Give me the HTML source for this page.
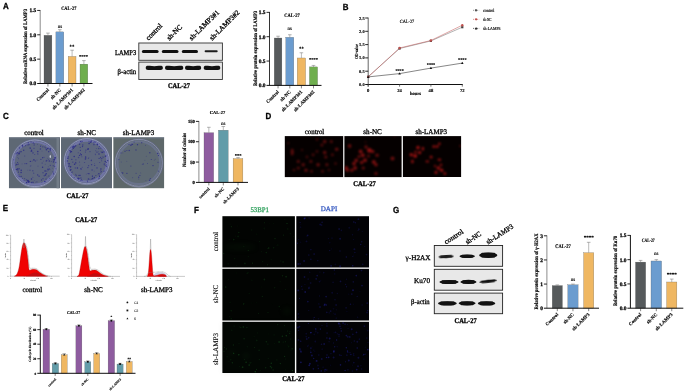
<!DOCTYPE html>
<html><head><meta charset="utf-8"><style>
html,body{margin:0;padding:0;background:#fff;width:685px;height:391px;overflow:hidden}
svg{display:block}
</style></head><body>
<svg width="685" height="391" viewBox="0 0 685 391" text-rendering="geometricPrecision">
<defs>
<filter id="gb" color-interpolation-filters="sRGB" x="0" y="0" width="100%" height="100%"><feGaussianBlur stdDeviation="0.3"/></filter>
<filter id="bl" color-interpolation-filters="sRGB" x="-20%" y="-100%" width="140%" height="300%"><feGaussianBlur stdDeviation="0.65"/></filter>
<filter id="bl2" color-interpolation-filters="sRGB" x="-5%" y="-5%" width="110%" height="110%"><feGaussianBlur stdDeviation="0.6"/></filter>
<filter id="bl3" color-interpolation-filters="sRGB" x="-5%" y="-5%" width="110%" height="110%"><feGaussianBlur stdDeviation="0.4"/></filter>
<filter id="bl5" color-interpolation-filters="sRGB" x="-20%" y="-50%" width="140%" height="200%"><feGaussianBlur stdDeviation="2.5"/></filter>
<filter id="bl4" color-interpolation-filters="sRGB" x="-5%" y="-5%" width="110%" height="110%"><feGaussianBlur stdDeviation="1.0"/></filter>
</defs>
<rect width="685" height="391" fill="#fff"/>
<g filter="url(#gb)">
<text transform="translate(2.9 9.149999999999999) scale(0.9 1)" x="0" y="0" font-family="'Liberation Sans', sans-serif" font-size="8.9" font-weight="bold" fill="#000" stroke="#000" stroke-width="0.3">A</text>
<rect x="44.0" y="35.287" width="7.9" height="48.213" fill="#585b5d" stroke="#555" stroke-width="0.25"/>
<line x1="47.95" y1="33.0955" x2="47.95" y2="35.287" stroke="#777" stroke-width="0.5"/>
<line x1="46.150000000000006" y1="33.0955" x2="49.75" y2="33.0955" stroke="#777" stroke-width="0.55"/>
<line x1="47.95" y1="83.5" x2="47.95" y2="86.5" stroke="#444" stroke-width="0.65"/>
<rect x="55.9" y="31.877999999999993" width="7.9" height="51.62200000000001" fill="#6b9ccf" stroke="#555" stroke-width="0.25"/>
<line x1="59.85" y1="29.686499999999995" x2="59.85" y2="31.877999999999993" stroke="#777" stroke-width="0.5"/>
<line x1="58.050000000000004" y1="29.686499999999995" x2="61.65" y2="29.686499999999995" stroke="#777" stroke-width="0.55"/>
<line x1="59.85" y1="83.5" x2="59.85" y2="86.5" stroke="#444" stroke-width="0.65"/>
<rect x="68.2" y="56.422799999999995" width="7.8" height="27.077200000000005" fill="#efb762" stroke="#555" stroke-width="0.25"/>
<line x1="72.10000000000001" y1="50.18919999999999" x2="72.10000000000001" y2="56.422799999999995" stroke="#777" stroke-width="0.5"/>
<line x1="70.30000000000001" y1="50.18919999999999" x2="73.9" y2="50.18919999999999" stroke="#777" stroke-width="0.55"/>
<line x1="72.10000000000001" y1="83.5" x2="72.10000000000001" y2="86.5" stroke="#444" stroke-width="0.65"/>
<rect x="80.0" y="64.1174" width="7.8" height="19.382599999999996" fill="#6fae4e" stroke="#555" stroke-width="0.25"/>
<line x1="83.9" y1="60.611000000000004" x2="83.9" y2="64.1174" stroke="#777" stroke-width="0.5"/>
<line x1="82.10000000000001" y1="60.611000000000004" x2="85.7" y2="60.611000000000004" stroke="#777" stroke-width="0.55"/>
<line x1="83.9" y1="83.5" x2="83.9" y2="86.5" stroke="#444" stroke-width="0.65"/>
<line x1="40.2" y1="10.049999999999988" x2="40.2" y2="83.5" stroke="#8c8c8c" stroke-width="1.0"/>
<line x1="37.2" y1="83.5" x2="92.5" y2="83.5" stroke="#111" stroke-width="1.0"/>
<text x="36.2" y="85.444" font-family="'Liberation Serif', serif" font-size="5.4" font-weight="bold" text-anchor="end" fill="#000" stroke="#000" stroke-width="0.27">0.0</text>
<line x1="37.2" y1="59.15" x2="40.2" y2="59.15" stroke="#111" stroke-width="0.9"/>
<text x="36.2" y="61.094" font-family="'Liberation Serif', serif" font-size="5.4" font-weight="bold" text-anchor="end" fill="#000" stroke="#000" stroke-width="0.27">0.5</text>
<line x1="37.2" y1="34.8" x2="40.2" y2="34.8" stroke="#111" stroke-width="0.9"/>
<text x="36.2" y="36.744" font-family="'Liberation Serif', serif" font-size="5.4" font-weight="bold" text-anchor="end" fill="#000" stroke="#000" stroke-width="0.27">1.0</text>
<line x1="37.2" y1="10.449999999999989" x2="40.2" y2="10.449999999999989" stroke="#111" stroke-width="0.9"/>
<text x="36.2" y="12.393999999999988" font-family="'Liberation Serif', serif" font-size="5.4" font-weight="bold" text-anchor="end" fill="#000" stroke="#000" stroke-width="0.27">1.5</text>
<text x="26.6" y="46.5" font-family="'Liberation Serif', serif" font-size="5.3" font-weight="bold" text-anchor="middle" fill="#000" stroke="#000" stroke-width="0.159" transform="rotate(-90 26.6 46.5)" textLength="75" lengthAdjust="spacingAndGlyphs">Relative mRNA expression of LAMP3</text>
<text x="68.8" y="10.3" font-family="'Liberation Serif', serif" font-size="5.2" font-weight="bold" text-anchor="middle" fill="#000" stroke="#000" stroke-width="0.156" textLength="15.2" lengthAdjust="spacingAndGlyphs">CAL-27</text>
<text x="60.0" y="27.6" font-family="'Liberation Serif', serif" font-size="5.0" font-weight="normal" text-anchor="middle" fill="#000" stroke="#000" stroke-width="0.15">ns</text>
<text x="72.0" y="48.4" font-family="'Liberation Serif', serif" font-size="4.8" font-weight="bold" text-anchor="middle" fill="#000" stroke="#000" stroke-width="0.144">**</text>
<text x="83.5" y="58.1" font-family="'Liberation Serif', serif" font-size="4.6" font-weight="bold" text-anchor="middle" fill="#000" stroke="#000" stroke-width="0.138">****</text>
<text x="49.4" y="90.3" font-family="'Liberation Serif', serif" font-size="4.8" font-weight="bold" text-anchor="end" fill="#000" stroke="#000" stroke-width="0.144" transform="rotate(-45 49.4 90.3)">Control</text>
<text x="61.4" y="90.3" font-family="'Liberation Serif', serif" font-size="4.8" font-weight="bold" text-anchor="end" fill="#000" stroke="#000" stroke-width="0.144" transform="rotate(-45 61.4 90.3)">sh-NC</text>
<text x="73.39999999999999" y="90.3" font-family="'Liberation Serif', serif" font-size="4.8" font-weight="bold" text-anchor="end" fill="#000" stroke="#000" stroke-width="0.144" transform="rotate(-45 73.39999999999999 90.3)">sh-LAMP3#1</text>
<text x="85.2" y="90.3" font-family="'Liberation Serif', serif" font-size="4.8" font-weight="bold" text-anchor="end" fill="#000" stroke="#000" stroke-width="0.144" transform="rotate(-45 85.2 90.3)">sh-LAMP3#2</text>
<rect x="138.8" y="43.0" width="83.6" height="17.3" fill="#e8e8e8" stroke="#333" stroke-width="0.9"/>
<rect x="138.8" y="62.1" width="83.6" height="17.4" fill="#e8e8e8" stroke="#333" stroke-width="0.9"/>
<rect x="141.9" y="50.0" width="16.69999999999999" height="3.0" rx="1.5" ry="1.5" fill="#111" fill-opacity="1.0" filter="url(#bl)" transform="rotate(0 150.25 51.5)"/>
<rect x="161.8" y="50.0" width="16.69999999999999" height="3.0" rx="1.5" ry="1.5" fill="#111" fill-opacity="1.0" filter="url(#bl)" transform="rotate(0 170.15 51.5)"/>
<rect x="181.8" y="50.0" width="16.19999999999999" height="3.0" rx="1.5" ry="1.5" fill="#111" fill-opacity="1.0" filter="url(#bl)" transform="rotate(0 189.9 51.5)"/>
<rect x="204.6" y="50.2" width="13.099999999999994" height="2.0" rx="1.0" ry="1.0" fill="#111" fill-opacity="0.95" filter="url(#bl)" transform="rotate(0 211.14999999999998 51.2)"/>
<path d="M145.7,67.9 C145.7,65.55000000000001 147.7,65.85000000000001 149.7,65.85000000000001 Q154.3,66.75000000000001 158.9,65.85000000000001 C160.9,65.85000000000001 162.9,65.55000000000001 162.9,67.9 C162.9,69.95 160.9,69.95 158.9,69.95 Q154.3,70.22 149.7,69.95 C147.7,69.95 145.7,69.95 145.7,67.9 Z" fill="#111" fill-opacity="1.0" filter="url(#bl)" transform="rotate(0 154.3 67.9)"/>
<path d="M165.0,67.9 C165.0,65.55000000000001 167.0,65.85000000000001 169.0,65.85000000000001 Q174.15,66.75000000000001 179.3,65.85000000000001 C181.3,65.85000000000001 183.3,65.55000000000001 183.3,67.9 C183.3,69.95 181.3,69.95 179.3,69.95 Q174.15,70.22 169.0,69.95 C167.0,69.95 165.0,69.95 165.0,67.9 Z" fill="#111" fill-opacity="1.0" filter="url(#bl)" transform="rotate(0 174.15 67.9)"/>
<path d="M185.0,67.9 C185.0,65.55000000000001 187.0,65.85000000000001 189.0,65.85000000000001 Q193.1,66.75000000000001 197.2,65.85000000000001 C199.2,65.85000000000001 201.2,65.55000000000001 201.2,67.9 C201.2,69.95 199.2,69.95 197.2,69.95 Q193.1,70.22 189.0,69.95 C187.0,69.95 185.0,69.95 185.0,67.9 Z" fill="#111" fill-opacity="1.0" filter="url(#bl)" transform="rotate(0 193.1 67.9)"/>
<path d="M203.7,67.9 C203.7,65.55000000000001 205.7,65.85000000000001 207.7,65.85000000000001 Q212.0,66.75000000000001 216.3,65.85000000000001 C218.3,65.85000000000001 220.3,65.55000000000001 220.3,67.9 C220.3,69.95 218.3,69.95 216.3,69.95 Q212.0,70.22 207.7,69.95 C205.7,69.95 203.7,69.95 203.7,67.9 Z" fill="#111" fill-opacity="1.0" filter="url(#bl)" transform="rotate(0 212.0 67.9)"/>
<text x="136.2" y="54.6" font-family="'Liberation Serif', serif" font-size="7.4" font-weight="normal" text-anchor="end" fill="#000" stroke="#000" stroke-width="0.296" textLength="21.2" lengthAdjust="spacingAndGlyphs">LAMP3</text>
<text x="136.2" y="74.4" font-family="'Liberation Serif', serif" font-size="7.4" font-weight="normal" text-anchor="end" fill="#000" stroke="#000" stroke-width="0.296" textLength="18.6" lengthAdjust="spacingAndGlyphs">β-actin</text>
<text x="179.0" y="88.4" font-family="'Liberation Serif', serif" font-size="7.3" font-weight="bold" text-anchor="middle" fill="#000" stroke="#000" stroke-width="0.292" textLength="22" lengthAdjust="spacingAndGlyphs">CAL-27</text>
<text x="148.4" y="40.8" font-family="'Liberation Serif', serif" font-size="7.2" font-weight="normal" text-anchor="start" fill="#000" stroke="#000" stroke-width="0.288" transform="rotate(-45 148.4 40.8)">control</text>
<text x="169.4" y="40.8" font-family="'Liberation Serif', serif" font-size="7.2" font-weight="normal" text-anchor="start" fill="#000" stroke="#000" stroke-width="0.288" transform="rotate(-45 169.4 40.8)">sh-NC</text>
<text x="191.8" y="40.8" font-family="'Liberation Serif', serif" font-size="7.2" font-weight="normal" text-anchor="start" fill="#000" stroke="#000" stroke-width="0.288" transform="rotate(-45 191.8 40.8)">sh-LAMP3#1</text>
<text x="212.2" y="40.8" font-family="'Liberation Serif', serif" font-size="7.2" font-weight="normal" text-anchor="start" fill="#000" stroke="#000" stroke-width="0.288" transform="rotate(-45 212.2 40.8)">sh-LAMP3#2</text>
<rect x="274.2" y="38.014900000000004" width="7.7" height="47.3851" fill="#565a5c" stroke="#555" stroke-width="0.25"/>
<line x1="278.05" y1="36.213" x2="278.05" y2="38.014900000000004" stroke="#777" stroke-width="0.5"/>
<line x1="276.25" y1="36.213" x2="279.85" y2="36.213" stroke="#777" stroke-width="0.55"/>
<line x1="278.05" y1="85.4" x2="278.05" y2="88.4" stroke="#444" stroke-width="0.65"/>
<rect x="285.8" y="37.284400000000005" width="8.0" height="48.1156" fill="#6b9ccf" stroke="#555" stroke-width="0.25"/>
<line x1="289.8" y1="34.752" x2="289.8" y2="37.284400000000005" stroke="#777" stroke-width="0.5"/>
<line x1="288.0" y1="34.752" x2="291.6" y2="34.752" stroke="#777" stroke-width="0.55"/>
<line x1="289.8" y1="85.4" x2="289.8" y2="88.4" stroke="#444" stroke-width="0.65"/>
<rect x="297.2" y="57.98190000000001" width="8.4" height="27.418099999999995" fill="#efb762" stroke="#555" stroke-width="0.25"/>
<line x1="301.4" y1="52.771" x2="301.4" y2="57.98190000000001" stroke="#777" stroke-width="0.5"/>
<line x1="299.59999999999997" y1="52.771" x2="303.2" y2="52.771" stroke="#777" stroke-width="0.55"/>
<line x1="301.4" y1="85.4" x2="301.4" y2="88.4" stroke="#444" stroke-width="0.65"/>
<rect x="309.4" y="66.894" width="8.2" height="18.506" fill="#6fae4e" stroke="#555" stroke-width="0.25"/>
<line x1="313.5" y1="65.433" x2="313.5" y2="66.894" stroke="#777" stroke-width="0.5"/>
<line x1="311.7" y1="65.433" x2="315.3" y2="65.433" stroke="#777" stroke-width="0.55"/>
<line x1="313.5" y1="85.4" x2="313.5" y2="88.4" stroke="#444" stroke-width="0.65"/>
<line x1="269.5" y1="11.949999999999994" x2="269.5" y2="85.4" stroke="#333" stroke-width="1.0"/>
<line x1="266.5" y1="85.4" x2="321.5" y2="85.4" stroke="#111" stroke-width="1.0"/>
<text x="265.5" y="87.34400000000001" font-family="'Liberation Serif', serif" font-size="5.4" font-weight="bold" text-anchor="end" fill="#000" stroke="#000" stroke-width="0.27">0.0</text>
<line x1="266.5" y1="61.050000000000004" x2="269.5" y2="61.050000000000004" stroke="#111" stroke-width="0.9"/>
<text x="265.5" y="62.99400000000001" font-family="'Liberation Serif', serif" font-size="5.4" font-weight="bold" text-anchor="end" fill="#000" stroke="#000" stroke-width="0.27">0.5</text>
<line x1="266.5" y1="36.7" x2="269.5" y2="36.7" stroke="#111" stroke-width="0.9"/>
<text x="265.5" y="38.644000000000005" font-family="'Liberation Serif', serif" font-size="5.4" font-weight="bold" text-anchor="end" fill="#000" stroke="#000" stroke-width="0.27">1.0</text>
<line x1="266.5" y1="12.349999999999994" x2="269.5" y2="12.349999999999994" stroke="#111" stroke-width="0.9"/>
<text x="265.5" y="14.293999999999993" font-family="'Liberation Serif', serif" font-size="5.4" font-weight="bold" text-anchor="end" fill="#000" stroke="#000" stroke-width="0.27">1.5</text>
<text x="257.4" y="48.5" font-family="'Liberation Serif', serif" font-size="5.3" font-weight="bold" text-anchor="middle" fill="#000" stroke="#000" stroke-width="0.159" transform="rotate(-90 257.4 48.5)" textLength="75" lengthAdjust="spacingAndGlyphs">Relative protein expression of LAMP3</text>
<text x="292.0" y="16.5" font-family="'Liberation Serif', serif" font-size="5.2" font-weight="bold" text-anchor="middle" fill="#000" stroke="#000" stroke-width="0.156" textLength="15.5" lengthAdjust="spacingAndGlyphs">CAL-27</text>
<text x="289.8" y="30.0" font-family="'Liberation Serif', serif" font-size="5.0" font-weight="normal" text-anchor="middle" fill="#000" stroke="#000" stroke-width="0.15">ns</text>
<text x="301.4" y="49.7" font-family="'Liberation Serif', serif" font-size="4.8" font-weight="bold" text-anchor="middle" fill="#000" stroke="#000" stroke-width="0.144">**</text>
<text x="313.5" y="60.6" font-family="'Liberation Serif', serif" font-size="4.6" font-weight="bold" text-anchor="middle" fill="#000" stroke="#000" stroke-width="0.138">****</text>
<text x="279.3" y="92.3" font-family="'Liberation Serif', serif" font-size="4.8" font-weight="bold" text-anchor="end" fill="#000" stroke="#000" stroke-width="0.144" transform="rotate(-45 279.3 92.3)">Control</text>
<text x="291.1" y="92.3" font-family="'Liberation Serif', serif" font-size="4.8" font-weight="bold" text-anchor="end" fill="#000" stroke="#000" stroke-width="0.144" transform="rotate(-45 291.1 92.3)">sh-NC</text>
<text x="302.7" y="92.3" font-family="'Liberation Serif', serif" font-size="4.8" font-weight="bold" text-anchor="end" fill="#000" stroke="#000" stroke-width="0.144" transform="rotate(-45 302.7 92.3)">sh-LAMP3#1</text>
<text x="314.8" y="92.3" font-family="'Liberation Serif', serif" font-size="4.8" font-weight="bold" text-anchor="end" fill="#000" stroke="#000" stroke-width="0.144" transform="rotate(-45 314.8 92.3)">sh-LAMP3#2</text>
<text transform="translate(342.79999999999995 9.649999999999999) scale(0.9 1)" x="0" y="0" font-family="'Liberation Sans', sans-serif" font-size="8.9" font-weight="bold" fill="#000" stroke="#000" stroke-width="0.3">B</text>
<line x1="368.2" y1="17.6" x2="368.2" y2="86.7" stroke="#555" stroke-width="0.9"/>
<line x1="365.2" y1="84.5" x2="462.8" y2="84.5" stroke="#111" stroke-width="1.0"/>
<text x="364.59999999999997" y="86.0" font-family="'Liberation Serif', serif" font-size="4.4" font-weight="bold" text-anchor="end" fill="#000" stroke="#000" stroke-width="0.132">0.0</text>
<line x1="365.2" y1="71.2" x2="368.2" y2="71.2" stroke="#111" stroke-width="0.9"/>
<text x="364.59999999999997" y="72.7" font-family="'Liberation Serif', serif" font-size="4.4" font-weight="bold" text-anchor="end" fill="#000" stroke="#000" stroke-width="0.132">0.5</text>
<line x1="365.2" y1="57.9" x2="368.2" y2="57.9" stroke="#111" stroke-width="0.9"/>
<text x="364.59999999999997" y="59.4" font-family="'Liberation Serif', serif" font-size="4.4" font-weight="bold" text-anchor="end" fill="#000" stroke="#000" stroke-width="0.132">1.0</text>
<line x1="365.2" y1="44.599999999999994" x2="368.2" y2="44.599999999999994" stroke="#111" stroke-width="0.9"/>
<text x="364.59999999999997" y="46.099999999999994" font-family="'Liberation Serif', serif" font-size="4.4" font-weight="bold" text-anchor="end" fill="#000" stroke="#000" stroke-width="0.132">1.5</text>
<line x1="365.2" y1="31.299999999999997" x2="368.2" y2="31.299999999999997" stroke="#111" stroke-width="0.9"/>
<text x="364.59999999999997" y="32.8" font-family="'Liberation Serif', serif" font-size="4.4" font-weight="bold" text-anchor="end" fill="#000" stroke="#000" stroke-width="0.132">2.0</text>
<line x1="365.2" y1="18.0" x2="368.2" y2="18.0" stroke="#111" stroke-width="0.9"/>
<text x="364.59999999999997" y="19.5" font-family="'Liberation Serif', serif" font-size="4.4" font-weight="bold" text-anchor="end" fill="#000" stroke="#000" stroke-width="0.132">2.5</text>
<line x1="368.2" y1="84.5" x2="368.2" y2="86.7" stroke="#555" stroke-width="0.8"/>
<text x="368.2" y="92.2" font-family="'Liberation Serif', serif" font-size="4.6" font-weight="bold" text-anchor="middle" fill="#000" stroke="#000" stroke-width="0.138">0</text>
<line x1="399.6" y1="84.5" x2="399.6" y2="86.7" stroke="#555" stroke-width="0.8"/>
<text x="399.6" y="92.2" font-family="'Liberation Serif', serif" font-size="4.6" font-weight="bold" text-anchor="middle" fill="#000" stroke="#000" stroke-width="0.138">24</text>
<line x1="430.9" y1="84.5" x2="430.9" y2="86.7" stroke="#555" stroke-width="0.8"/>
<text x="430.9" y="92.2" font-family="'Liberation Serif', serif" font-size="4.6" font-weight="bold" text-anchor="middle" fill="#000" stroke="#000" stroke-width="0.138">48</text>
<line x1="462.3" y1="84.5" x2="462.3" y2="86.7" stroke="#555" stroke-width="0.8"/>
<text x="462.3" y="92.2" font-family="'Liberation Serif', serif" font-size="4.6" font-weight="bold" text-anchor="middle" fill="#000" stroke="#000" stroke-width="0.138">72</text>
<text x="415.5" y="95.0" font-family="'Liberation Serif', serif" font-size="4.6" font-weight="bold" text-anchor="middle" fill="#000" stroke="#000" stroke-width="0.138">hours</text>
<text x="358.4" y="51.5" font-family="'Liberation Serif', serif" font-size="4.6" font-weight="bold" text-anchor="middle" fill="#000" stroke="#000" stroke-width="0.138" transform="rotate(-90 358.4 51.5)" textLength="15" lengthAdjust="spacingAndGlyphs">OD value</text>
<text x="407.0" y="22.8" font-family="'Liberation Serif', serif" font-size="4.8" font-weight="normal" text-anchor="middle" fill="#000" stroke="#000" stroke-width="0.144" textLength="14.5" lengthAdjust="spacingAndGlyphs">CAL-27</text>
<polyline points="368.2,76.7 399.6,48.5 430.9,40.9 462.3,27.2" fill="none" stroke="#555" stroke-width="0.45"/>
<polyline points="368.2,76.9 399.6,48.0 430.9,40.5 462.3,25.2" fill="none" stroke="#c05050" stroke-width="0.5"/>
<polyline points="368.2,76.9 399.6,73.6 430.9,68.1 462.3,63.1" fill="none" stroke="#222" stroke-width="0.55"/>
<rect x="367.09999999999997" y="75.60000000000001" width="2.2" height="2.2" fill="#444"/>
<rect x="398.5" y="47.4" width="2.2" height="2.2" fill="#444"/>
<rect x="429.79999999999995" y="39.8" width="2.2" height="2.2" fill="#444"/>
<rect x="461.2" y="26.099999999999998" width="2.2" height="2.2" fill="#444"/>
<circle cx="368.2" cy="76.9" r="1.2" fill="#c0504d"/>
<circle cx="399.6" cy="48.0" r="1.2" fill="#c0504d"/>
<circle cx="430.9" cy="40.5" r="1.2" fill="#c0504d"/>
<circle cx="462.3" cy="25.2" r="1.2" fill="#c0504d"/>
<polygon points="366.9,77.9 369.5,77.9 368.2,75.60000000000001" fill="#111"/>
<polygon points="398.3,74.6 400.90000000000003,74.6 399.6,72.3" fill="#111"/>
<polygon points="429.59999999999997,69.1 432.2,69.1 430.9,66.8" fill="#111"/>
<polygon points="461.0,64.1 463.6,64.1 462.3,61.800000000000004" fill="#111"/>
<text x="399.6" y="71.6" font-family="'Liberation Serif', serif" font-size="4.2" font-weight="bold" text-anchor="middle" fill="#000" stroke="#000" stroke-width="0.126">****</text>
<text x="431.0" y="66.4" font-family="'Liberation Serif', serif" font-size="4.2" font-weight="bold" text-anchor="middle" fill="#000" stroke="#000" stroke-width="0.126">****</text>
<text x="462.3" y="61.2" font-family="'Liberation Serif', serif" font-size="4.2" font-weight="bold" text-anchor="middle" fill="#000" stroke="#000" stroke-width="0.126">****</text>
<line x1="473.0" y1="10.3" x2="479.2" y2="10.3" stroke="#555" stroke-width="0.6" stroke-dasharray="1.2,0.8"/>
<rect x="475.0" y="9.3" width="2" height="2" fill="#555"/>
<text x="483.0" y="11.8" font-family="'Liberation Serif', serif" font-size="4.6" font-weight="normal" text-anchor="start" fill="#000" stroke="#000" stroke-width="0.138" textLength="11.5" lengthAdjust="spacingAndGlyphs">control</text>
<line x1="473.0" y1="19.35" x2="479.2" y2="19.35" stroke="#c0504d" stroke-width="0.6" stroke-dasharray="1.2,0.8"/>
<circle cx="476.1" cy="19.35" r="1.1" fill="#c0504d"/>
<text x="483.0" y="20.85" font-family="'Liberation Serif', serif" font-size="4.6" font-weight="normal" text-anchor="start" fill="#000" stroke="#000" stroke-width="0.138" textLength="8.5" lengthAdjust="spacingAndGlyphs">sh-NC</text>
<line x1="473.0" y1="28.400000000000002" x2="479.2" y2="28.400000000000002" stroke="#111" stroke-width="0.6" stroke-dasharray="1.2,0.8"/>
<polygon points="474.8,29.400000000000002 477.4,29.400000000000002 476.1,27.1" fill="#111"/>
<text x="483.0" y="29.900000000000002" font-family="'Liberation Serif', serif" font-size="4.6" font-weight="normal" text-anchor="start" fill="#000" stroke="#000" stroke-width="0.138" textLength="17.5" lengthAdjust="spacingAndGlyphs">sh-LAMP3</text>
<text transform="translate(3.0 119.35) scale(0.9 1)" x="0" y="0" font-family="'Liberation Sans', sans-serif" font-size="8.9" font-weight="bold" fill="#000" stroke="#000" stroke-width="0.3">C</text>
<clipPath id="pc1"><rect x="8.8" y="137.2" width="51.2" height="51.2"/></clipPath>
<g clip-path="url(#pc1)">
<rect x="8.8" y="137.2" width="51.2" height="51.2" fill="#5e6874"/>
<rect x="8.8" y="137.2" width="51.2" height="1.2" fill="#6c7684"/>
<circle cx="34.9" cy="163.3" r="24.3" fill="#646b86"/>
<circle cx="34.9" cy="163.3" r="23.3" fill="#5e677e" stroke="#949ac0" stroke-width="0.9"/>
<circle cx="34.9" cy="163.3" r="21.3" fill="none" stroke="#7478ae" stroke-width="2.2" opacity="0.8"/>
<path d="M16.259999999999998,177.746 A22.5,22.5 0 0 0 53.54,177.746" fill="none" stroke="#9a9eba" stroke-width="0.8" opacity="0.6"/>
<g filter="url(#bl3)"><circle cx="47.0" cy="176.9" r="0.46" fill="#2a2a84" opacity="0.72"/><circle cx="17.3" cy="169.1" r="0.39" fill="#2a2a84" opacity="0.51"/><circle cx="45.6" cy="145.4" r="0.35" fill="#2a2a84" opacity="0.70"/><circle cx="31.1" cy="142.1" r="0.76" fill="#2a2a84" opacity="0.51"/><circle cx="54.8" cy="166.5" r="0.52" fill="#2a2a84" opacity="0.60"/><circle cx="18.4" cy="172.1" r="0.55" fill="#2a2a84" opacity="0.72"/><circle cx="36.9" cy="181.9" r="0.56" fill="#2a2a84" opacity="0.63"/><circle cx="50.3" cy="165.4" r="0.64" fill="#2a2a84" opacity="0.58"/><circle cx="42.1" cy="163.0" r="0.50" fill="#2a2a84" opacity="0.82"/><circle cx="31.6" cy="150.2" r="0.72" fill="#2a2a84" opacity="0.80"/><circle cx="28.5" cy="181.8" r="0.73" fill="#2a2a84" opacity="0.73"/><circle cx="18.9" cy="153.3" r="0.71" fill="#2a2a84" opacity="0.69"/><circle cx="43.0" cy="178.7" r="0.65" fill="#2a2a84" opacity="0.67"/><circle cx="17.9" cy="170.2" r="0.58" fill="#2a2a84" opacity="0.68"/><circle cx="16.9" cy="164.5" r="0.67" fill="#2a2a84" opacity="0.94"/><circle cx="19.4" cy="153.1" r="0.58" fill="#2a2a84" opacity="0.94"/><circle cx="37.4" cy="144.2" r="0.45" fill="#2a2a84" opacity="0.73"/><circle cx="48.4" cy="159.2" r="0.47" fill="#2a2a84" opacity="0.75"/><circle cx="55.1" cy="157.7" r="0.72" fill="#2a2a84" opacity="0.90"/><circle cx="34.0" cy="148.3" r="0.60" fill="#2a2a84" opacity="0.69"/><circle cx="49.6" cy="168.7" r="0.44" fill="#2a2a84" opacity="0.73"/><circle cx="15.8" cy="165.1" r="0.59" fill="#2a2a84" opacity="0.78"/><circle cx="32.3" cy="161.0" r="0.45" fill="#2a2a84" opacity="0.58"/><circle cx="18.9" cy="153.9" r="0.71" fill="#2a2a84" opacity="0.87"/><circle cx="34.3" cy="180.4" r="0.39" fill="#2a2a84" opacity="0.51"/><circle cx="45.2" cy="164.2" r="0.40" fill="#2a2a84" opacity="0.78"/><circle cx="24.6" cy="178.6" r="0.59" fill="#2a2a84" opacity="0.58"/><circle cx="32.9" cy="177.2" r="0.49" fill="#2a2a84" opacity="0.71"/><circle cx="54.2" cy="166.2" r="0.43" fill="#2a2a84" opacity="0.55"/><circle cx="42.6" cy="157.7" r="0.62" fill="#2a2a84" opacity="0.87"/><circle cx="53.2" cy="165.7" r="0.67" fill="#2a2a84" opacity="0.57"/><circle cx="30.6" cy="148.6" r="0.45" fill="#2a2a84" opacity="0.94"/><circle cx="37.8" cy="153.9" r="0.64" fill="#2a2a84" opacity="0.68"/><circle cx="16.8" cy="154.0" r="0.38" fill="#2a2a84" opacity="0.63"/><circle cx="46.2" cy="161.0" r="0.74" fill="#2a2a84" opacity="0.64"/><circle cx="47.4" cy="158.3" r="0.46" fill="#2a2a84" opacity="0.50"/><circle cx="50.2" cy="148.7" r="0.78" fill="#2a2a84" opacity="0.76"/><circle cx="44.6" cy="181.4" r="0.67" fill="#2a2a84" opacity="0.73"/><circle cx="21.4" cy="176.3" r="0.65" fill="#2a2a84" opacity="0.69"/><circle cx="41.9" cy="182.5" r="0.48" fill="#2a2a84" opacity="0.72"/><circle cx="25.9" cy="180.9" r="0.36" fill="#2a2a84" opacity="0.59"/><circle cx="26.3" cy="179.5" r="0.50" fill="#2a2a84" opacity="0.60"/><circle cx="25.7" cy="145.4" r="0.50" fill="#2a2a84" opacity="0.90"/><circle cx="27.0" cy="144.2" r="0.46" fill="#2a2a84" opacity="0.83"/><circle cx="53.4" cy="174.2" r="0.45" fill="#2a2a84" opacity="0.84"/><circle cx="24.7" cy="155.9" r="0.50" fill="#2a2a84" opacity="0.63"/><circle cx="48.6" cy="148.3" r="0.75" fill="#2a2a84" opacity="0.56"/><circle cx="17.8" cy="157.6" r="0.38" fill="#2a2a84" opacity="0.89"/><circle cx="37.8" cy="151.5" r="0.63" fill="#2a2a84" opacity="0.85"/><circle cx="27.8" cy="170.1" r="0.39" fill="#2a2a84" opacity="0.62"/><circle cx="50.4" cy="150.6" r="0.56" fill="#2a2a84" opacity="0.62"/><circle cx="35.4" cy="161.0" r="0.65" fill="#2a2a84" opacity="0.54"/><circle cx="38.0" cy="166.1" r="0.46" fill="#2a2a84" opacity="0.94"/><circle cx="18.6" cy="172.1" r="0.46" fill="#2a2a84" opacity="0.83"/><circle cx="45.1" cy="171.0" r="0.79" fill="#2a2a84" opacity="0.91"/><circle cx="29.5" cy="182.3" r="0.40" fill="#2a2a84" opacity="0.79"/><circle cx="56.0" cy="168.7" r="0.48" fill="#2a2a84" opacity="0.77"/><circle cx="17.7" cy="168.9" r="0.76" fill="#2a2a84" opacity="0.94"/><circle cx="53.3" cy="159.8" r="0.63" fill="#2a2a84" opacity="0.94"/><circle cx="18.6" cy="158.8" r="0.47" fill="#2a2a84" opacity="0.74"/><circle cx="28.5" cy="180.3" r="0.48" fill="#2a2a84" opacity="0.94"/><circle cx="19.1" cy="168.7" r="0.77" fill="#2a2a84" opacity="0.68"/><circle cx="28.2" cy="181.2" r="0.73" fill="#2a2a84" opacity="0.90"/><circle cx="28.4" cy="182.2" r="0.61" fill="#2a2a84" opacity="0.77"/><circle cx="35.5" cy="182.1" r="0.38" fill="#2a2a84" opacity="0.75"/><circle cx="53.3" cy="172.1" r="0.48" fill="#2a2a84" opacity="0.86"/><circle cx="26.7" cy="163.6" r="0.58" fill="#2a2a84" opacity="0.86"/><circle cx="42.6" cy="167.3" r="0.70" fill="#2a2a84" opacity="0.94"/><circle cx="42.9" cy="146.8" r="0.58" fill="#2a2a84" opacity="0.91"/><circle cx="32.8" cy="170.8" r="0.76" fill="#2a2a84" opacity="0.51"/><circle cx="27.4" cy="180.4" r="0.76" fill="#2a2a84" opacity="0.88"/><circle cx="34.7" cy="154.5" r="0.54" fill="#2a2a84" opacity="0.57"/><circle cx="32.6" cy="153.1" r="0.38" fill="#2a2a84" opacity="0.93"/><circle cx="40.4" cy="149.0" r="0.73" fill="#2a2a84" opacity="0.70"/><circle cx="19.9" cy="174.8" r="0.36" fill="#2a2a84" opacity="0.79"/><circle cx="30.4" cy="165.9" r="0.51" fill="#2a2a84" opacity="0.56"/><circle cx="49.8" cy="178.3" r="0.53" fill="#2a2a84" opacity="0.68"/><circle cx="21.3" cy="151.7" r="0.59" fill="#2a2a84" opacity="0.73"/><circle cx="22.7" cy="146.7" r="0.68" fill="#2a2a84" opacity="0.61"/><circle cx="25.0" cy="163.6" r="0.54" fill="#2a2a84" opacity="0.75"/><circle cx="44.0" cy="157.3" r="0.64" fill="#2a2a84" opacity="0.52"/><circle cx="52.4" cy="171.8" r="0.42" fill="#2a2a84" opacity="0.84"/><circle cx="50.2" cy="149.5" r="0.73" fill="#2a2a84" opacity="0.67"/><circle cx="30.1" cy="148.0" r="0.74" fill="#2a2a84" opacity="0.90"/><circle cx="43.4" cy="161.1" r="0.46" fill="#2a2a84" opacity="0.60"/><circle cx="30.6" cy="161.3" r="0.66" fill="#2a2a84" opacity="0.82"/><circle cx="30.0" cy="170.2" r="0.68" fill="#2a2a84" opacity="0.52"/><circle cx="51.3" cy="161.4" r="0.47" fill="#2a2a84" opacity="0.91"/><circle cx="55.1" cy="158.0" r="0.73" fill="#2a2a84" opacity="0.80"/><circle cx="28.3" cy="142.8" r="0.79" fill="#2a2a84" opacity="0.67"/><circle cx="40.9" cy="145.8" r="0.50" fill="#2a2a84" opacity="0.56"/><circle cx="40.9" cy="159.4" r="0.62" fill="#2a2a84" opacity="0.68"/><circle cx="48.8" cy="176.0" r="0.69" fill="#2a2a84" opacity="0.50"/><circle cx="41.5" cy="180.0" r="0.63" fill="#2a2a84" opacity="0.77"/><circle cx="44.6" cy="147.0" r="0.59" fill="#2a2a84" opacity="0.62"/><circle cx="17.3" cy="152.8" r="0.71" fill="#2a2a84" opacity="0.86"/><circle cx="49.3" cy="160.9" r="0.74" fill="#2a2a84" opacity="0.85"/><circle cx="17.7" cy="155.2" r="0.40" fill="#2a2a84" opacity="0.86"/><circle cx="46.2" cy="173.7" r="0.78" fill="#2a2a84" opacity="0.84"/><circle cx="54.5" cy="160.0" r="0.61" fill="#2a2a84" opacity="0.64"/><circle cx="15.0" cy="162.9" r="0.35" fill="#2a2a84" opacity="0.70"/><circle cx="16.4" cy="169.4" r="0.70" fill="#2a2a84" opacity="0.81"/><circle cx="22.1" cy="163.9" r="0.44" fill="#2a2a84" opacity="0.50"/><circle cx="31.5" cy="182.5" r="0.72" fill="#2a2a84" opacity="0.73"/><circle cx="53.8" cy="161.8" r="0.53" fill="#2a2a84" opacity="0.84"/><circle cx="53.4" cy="161.9" r="0.63" fill="#2a2a84" opacity="0.74"/><circle cx="22.6" cy="178.3" r="0.54" fill="#2a2a84" opacity="0.68"/><circle cx="46.4" cy="149.7" r="0.75" fill="#2a2a84" opacity="0.84"/><circle cx="18.3" cy="164.1" r="0.64" fill="#2a2a84" opacity="0.78"/><circle cx="21.1" cy="172.4" r="0.77" fill="#2a2a84" opacity="0.85"/><circle cx="45.6" cy="147.9" r="0.62" fill="#2a2a84" opacity="0.66"/><circle cx="33.1" cy="182.7" r="0.59" fill="#2a2a84" opacity="0.57"/><circle cx="42.0" cy="151.0" r="0.37" fill="#2a2a84" opacity="0.73"/><circle cx="34.3" cy="144.0" r="0.65" fill="#2a2a84" opacity="0.51"/><circle cx="17.6" cy="162.5" r="0.53" fill="#2a2a84" opacity="0.81"/><circle cx="20.1" cy="151.8" r="0.75" fill="#2a2a84" opacity="0.62"/><circle cx="48.3" cy="170.1" r="0.52" fill="#2a2a84" opacity="0.73"/><circle cx="33.2" cy="142.9" r="0.67" fill="#2a2a84" opacity="0.87"/><circle cx="33.7" cy="173.2" r="0.60" fill="#2a2a84" opacity="0.58"/><circle cx="37.9" cy="151.7" r="0.45" fill="#2a2a84" opacity="0.93"/><circle cx="33.9" cy="159.8" r="0.75" fill="#2a2a84" opacity="0.78"/><circle cx="26.4" cy="182.4" r="0.70" fill="#2a2a84" opacity="0.59"/><circle cx="19.6" cy="147.9" r="0.55" fill="#2a2a84" opacity="0.91"/><circle cx="33.4" cy="152.8" r="0.59" fill="#2a2a84" opacity="0.56"/><circle cx="43.0" cy="172.8" r="0.69" fill="#2a2a84" opacity="0.61"/><circle cx="32.6" cy="152.0" r="0.40" fill="#2a2a84" opacity="0.68"/><circle cx="16.3" cy="164.2" r="0.37" fill="#2a2a84" opacity="0.77"/><circle cx="48.7" cy="151.7" r="0.67" fill="#2a2a84" opacity="0.87"/><circle cx="46.8" cy="160.6" r="0.73" fill="#2a2a84" opacity="0.55"/><circle cx="28.0" cy="145.1" r="0.57" fill="#2a2a84" opacity="0.67"/><circle cx="45.2" cy="181.7" r="0.56" fill="#2a2a84" opacity="0.76"/><circle cx="37.7" cy="174.9" r="0.62" fill="#2a2a84" opacity="0.91"/><circle cx="55.9" cy="162.6" r="0.74" fill="#2a2a84" opacity="0.64"/><circle cx="20.1" cy="176.7" r="0.53" fill="#2a2a84" opacity="0.90"/><circle cx="36.1" cy="141.9" r="0.36" fill="#2a2a84" opacity="0.57"/><circle cx="25.0" cy="146.6" r="0.41" fill="#2a2a84" opacity="0.71"/><circle cx="37.0" cy="160.0" r="0.38" fill="#2a2a84" opacity="0.88"/><circle cx="52.6" cy="168.2" r="0.39" fill="#2a2a84" opacity="0.51"/><circle cx="23.7" cy="150.2" r="0.73" fill="#2a2a84" opacity="0.80"/><circle cx="19.1" cy="176.4" r="0.64" fill="#2a2a84" opacity="0.61"/><circle cx="49.8" cy="169.2" r="0.51" fill="#2a2a84" opacity="0.77"/><circle cx="30.1" cy="161.4" r="0.51" fill="#2a2a84" opacity="0.69"/><circle cx="39.1" cy="176.2" r="0.65" fill="#2a2a84" opacity="0.82"/><circle cx="34.1" cy="145.3" r="0.46" fill="#2a2a84" opacity="0.94"/><circle cx="46.1" cy="178.9" r="0.73" fill="#2a2a84" opacity="0.52"/><circle cx="46.9" cy="171.0" r="0.52" fill="#2a2a84" opacity="0.94"/><circle cx="48.3" cy="166.8" r="0.41" fill="#2a2a84" opacity="0.68"/><circle cx="34.0" cy="160.2" r="0.59" fill="#2a2a84" opacity="0.54"/><circle cx="40.5" cy="146.2" r="0.52" fill="#2a2a84" opacity="0.83"/><circle cx="26.8" cy="182.7" r="0.71" fill="#2a2a84" opacity="0.89"/><circle cx="28.7" cy="181.1" r="0.60" fill="#2a2a84" opacity="0.65"/><circle cx="24.1" cy="180.6" r="0.61" fill="#2a2a84" opacity="0.55"/><circle cx="22.4" cy="145.5" r="0.67" fill="#2a2a84" opacity="0.88"/><circle cx="29.0" cy="144.5" r="0.72" fill="#2a2a84" opacity="0.63"/><circle cx="45.9" cy="179.9" r="0.39" fill="#2a2a84" opacity="0.66"/><circle cx="16.1" cy="153.7" r="0.64" fill="#2a2a84" opacity="0.64"/><circle cx="29.2" cy="181.6" r="0.69" fill="#2a2a84" opacity="0.73"/><circle cx="13.7" cy="159.8" r="0.50" fill="#2a2a84" opacity="0.65"/><circle cx="48.0" cy="169.3" r="0.76" fill="#2a2a84" opacity="0.92"/><circle cx="54.5" cy="159.5" r="0.77" fill="#2a2a84" opacity="0.86"/><circle cx="45.4" cy="175.1" r="0.80" fill="#2a2a84" opacity="0.85"/><circle cx="31.3" cy="151.3" r="0.77" fill="#2a2a84" opacity="0.79"/><circle cx="18.1" cy="175.1" r="0.59" fill="#2a2a84" opacity="0.58"/><circle cx="44.2" cy="175.8" r="0.76" fill="#2a2a84" opacity="0.58"/><circle cx="31.0" cy="165.8" r="0.39" fill="#2a2a84" opacity="0.75"/><circle cx="33.0" cy="182.1" r="0.63" fill="#2a2a84" opacity="0.74"/><circle cx="53.6" cy="173.3" r="0.64" fill="#2a2a84" opacity="0.58"/><circle cx="47.4" cy="148.6" r="0.73" fill="#2a2a84" opacity="0.82"/><circle cx="31.5" cy="179.0" r="0.74" fill="#2a2a84" opacity="0.90"/><circle cx="21.2" cy="170.2" r="0.78" fill="#2a2a84" opacity="0.86"/></g>
</g>
<ellipse cx="50.3" cy="156.5" rx="0.7" ry="1.6" fill="#e8eaf0" opacity="0.8"/>
<rect x="56.5" y="137.2" width="2.6" height="51.2" fill="#7a8490" opacity="0.7"/>
<clipPath id="pc2"><rect x="61.0" y="137.2" width="51.0" height="51.2"/></clipPath>
<g clip-path="url(#pc2)">
<rect x="61.0" y="137.2" width="51.0" height="51.2" fill="#5e6874"/>
<rect x="61.0" y="137.2" width="51.0" height="1.2" fill="#6c7684"/>
<circle cx="86.9" cy="161.2" r="23.5" fill="#646b86"/>
<circle cx="86.9" cy="161.2" r="22.5" fill="#5e677e" stroke="#949ac0" stroke-width="0.9"/>
<circle cx="86.9" cy="161.2" r="20.5" fill="none" stroke="#7478ae" stroke-width="2.2" opacity="0.8"/>
<path d="M68.9,175.14999999999998 A21.7,21.7 0 0 0 104.9,175.14999999999998" fill="none" stroke="#9a9eba" stroke-width="0.8" opacity="0.6"/>
<g filter="url(#bl3)"><circle cx="91.5" cy="159.9" r="0.39" fill="#2a2a84" opacity="0.88"/><circle cx="85.9" cy="150.1" r="0.62" fill="#2a2a84" opacity="0.77"/><circle cx="70.5" cy="152.0" r="0.53" fill="#2a2a84" opacity="0.83"/><circle cx="101.6" cy="160.7" r="0.55" fill="#2a2a84" opacity="0.62"/><circle cx="105.4" cy="165.4" r="0.49" fill="#2a2a84" opacity="0.67"/><circle cx="98.5" cy="151.8" r="0.46" fill="#2a2a84" opacity="0.51"/><circle cx="78.2" cy="178.3" r="0.80" fill="#2a2a84" opacity="0.80"/><circle cx="94.3" cy="177.4" r="0.68" fill="#2a2a84" opacity="0.91"/><circle cx="87.9" cy="149.3" r="0.79" fill="#2a2a84" opacity="0.93"/><circle cx="95.9" cy="175.5" r="0.56" fill="#2a2a84" opacity="0.74"/><circle cx="72.8" cy="162.1" r="0.72" fill="#2a2a84" opacity="0.66"/><circle cx="97.0" cy="152.1" r="0.61" fill="#2a2a84" opacity="0.91"/><circle cx="85.4" cy="151.9" r="0.50" fill="#2a2a84" opacity="0.81"/><circle cx="92.1" cy="170.1" r="0.76" fill="#2a2a84" opacity="0.64"/><circle cx="100.6" cy="157.4" r="0.58" fill="#2a2a84" opacity="0.79"/><circle cx="71.6" cy="151.7" r="0.58" fill="#2a2a84" opacity="0.92"/><circle cx="72.4" cy="147.0" r="0.68" fill="#2a2a84" opacity="0.91"/><circle cx="88.6" cy="165.7" r="0.64" fill="#2a2a84" opacity="0.62"/><circle cx="87.9" cy="167.6" r="0.59" fill="#2a2a84" opacity="0.88"/><circle cx="87.6" cy="181.7" r="0.54" fill="#2a2a84" opacity="0.82"/><circle cx="104.4" cy="164.8" r="0.65" fill="#2a2a84" opacity="0.54"/><circle cx="106.1" cy="155.6" r="0.36" fill="#2a2a84" opacity="0.62"/><circle cx="93.8" cy="144.7" r="0.66" fill="#2a2a84" opacity="0.67"/><circle cx="94.4" cy="163.3" r="0.37" fill="#2a2a84" opacity="0.65"/><circle cx="81.9" cy="156.7" r="0.50" fill="#2a2a84" opacity="0.51"/><circle cx="70.6" cy="166.7" r="0.76" fill="#2a2a84" opacity="0.84"/><circle cx="95.8" cy="150.7" r="0.45" fill="#2a2a84" opacity="0.80"/><circle cx="79.2" cy="178.5" r="0.74" fill="#2a2a84" opacity="0.56"/><circle cx="70.4" cy="151.4" r="0.41" fill="#2a2a84" opacity="0.93"/><circle cx="86.2" cy="174.1" r="0.36" fill="#2a2a84" opacity="0.75"/><circle cx="97.9" cy="174.6" r="0.42" fill="#2a2a84" opacity="0.54"/><circle cx="73.8" cy="146.3" r="0.77" fill="#2a2a84" opacity="0.95"/><circle cx="88.9" cy="179.3" r="0.62" fill="#2a2a84" opacity="0.78"/><circle cx="90.0" cy="151.6" r="0.54" fill="#2a2a84" opacity="0.74"/><circle cx="105.7" cy="161.8" r="0.40" fill="#2a2a84" opacity="0.83"/><circle cx="87.9" cy="179.1" r="0.45" fill="#2a2a84" opacity="0.60"/><circle cx="75.9" cy="159.8" r="0.64" fill="#2a2a84" opacity="0.60"/><circle cx="101.1" cy="151.7" r="0.55" fill="#2a2a84" opacity="0.73"/><circle cx="70.5" cy="152.0" r="0.59" fill="#2a2a84" opacity="0.58"/><circle cx="97.0" cy="167.9" r="0.58" fill="#2a2a84" opacity="0.91"/><circle cx="70.8" cy="147.8" r="0.52" fill="#2a2a84" opacity="0.51"/><circle cx="79.6" cy="144.3" r="0.73" fill="#2a2a84" opacity="0.80"/><circle cx="99.7" cy="162.5" r="0.57" fill="#2a2a84" opacity="0.59"/><circle cx="71.4" cy="151.5" r="0.52" fill="#2a2a84" opacity="0.92"/><circle cx="94.7" cy="165.3" r="0.61" fill="#2a2a84" opacity="0.68"/><circle cx="74.7" cy="164.1" r="0.40" fill="#2a2a84" opacity="0.55"/><circle cx="100.9" cy="169.0" r="0.78" fill="#2a2a84" opacity="0.81"/><circle cx="104.3" cy="163.9" r="0.68" fill="#2a2a84" opacity="0.72"/><circle cx="75.7" cy="175.1" r="0.47" fill="#2a2a84" opacity="0.74"/><circle cx="69.1" cy="163.7" r="0.77" fill="#2a2a84" opacity="0.88"/><circle cx="81.4" cy="179.5" r="0.47" fill="#2a2a84" opacity="0.69"/><circle cx="80.3" cy="147.4" r="0.72" fill="#2a2a84" opacity="0.54"/><circle cx="82.2" cy="167.2" r="0.54" fill="#2a2a84" opacity="0.53"/><circle cx="103.9" cy="171.4" r="0.64" fill="#2a2a84" opacity="0.56"/><circle cx="81.2" cy="180.1" r="0.66" fill="#2a2a84" opacity="0.70"/><circle cx="67.9" cy="158.3" r="0.78" fill="#2a2a84" opacity="0.84"/><circle cx="100.8" cy="170.8" r="0.47" fill="#2a2a84" opacity="0.90"/><circle cx="74.6" cy="164.3" r="0.80" fill="#2a2a84" opacity="0.85"/><circle cx="70.0" cy="152.8" r="0.36" fill="#2a2a84" opacity="0.77"/><circle cx="101.0" cy="148.3" r="0.57" fill="#2a2a84" opacity="0.68"/><circle cx="82.8" cy="144.9" r="0.56" fill="#2a2a84" opacity="0.93"/><circle cx="79.0" cy="175.4" r="0.69" fill="#2a2a84" opacity="0.88"/><circle cx="88.9" cy="173.7" r="0.65" fill="#2a2a84" opacity="0.94"/><circle cx="74.3" cy="147.0" r="0.67" fill="#2a2a84" opacity="0.90"/><circle cx="85.4" cy="159.1" r="0.77" fill="#2a2a84" opacity="0.83"/><circle cx="72.1" cy="149.5" r="0.40" fill="#2a2a84" opacity="0.87"/><circle cx="89.0" cy="141.3" r="0.61" fill="#2a2a84" opacity="0.59"/><circle cx="93.4" cy="142.8" r="0.55" fill="#2a2a84" opacity="0.61"/><circle cx="78.6" cy="157.5" r="0.79" fill="#2a2a84" opacity="0.53"/><circle cx="105.2" cy="161.5" r="0.65" fill="#2a2a84" opacity="0.84"/><circle cx="75.4" cy="162.3" r="0.47" fill="#2a2a84" opacity="0.73"/><circle cx="106.7" cy="164.7" r="0.43" fill="#2a2a84" opacity="0.84"/><circle cx="91.1" cy="141.9" r="0.70" fill="#2a2a84" opacity="0.89"/><circle cx="99.3" cy="175.2" r="0.56" fill="#2a2a84" opacity="0.63"/><circle cx="106.5" cy="162.5" r="0.51" fill="#2a2a84" opacity="0.74"/><circle cx="71.7" cy="175.0" r="0.49" fill="#2a2a84" opacity="0.79"/><circle cx="67.9" cy="163.1" r="0.38" fill="#2a2a84" opacity="0.87"/><circle cx="80.9" cy="178.0" r="0.64" fill="#2a2a84" opacity="0.68"/><circle cx="97.5" cy="144.7" r="0.53" fill="#2a2a84" opacity="0.74"/><circle cx="96.3" cy="148.4" r="0.49" fill="#2a2a84" opacity="0.60"/><circle cx="69.3" cy="166.0" r="0.78" fill="#2a2a84" opacity="0.55"/><circle cx="94.7" cy="144.3" r="0.49" fill="#2a2a84" opacity="0.53"/><circle cx="68.7" cy="166.2" r="0.48" fill="#2a2a84" opacity="0.90"/><circle cx="104.2" cy="151.9" r="0.77" fill="#2a2a84" opacity="0.65"/><circle cx="101.4" cy="171.7" r="0.66" fill="#2a2a84" opacity="0.67"/><circle cx="80.9" cy="168.8" r="0.71" fill="#2a2a84" opacity="0.78"/><circle cx="77.4" cy="168.1" r="0.75" fill="#2a2a84" opacity="0.92"/><circle cx="67.4" cy="160.9" r="0.68" fill="#2a2a84" opacity="0.84"/><circle cx="98.7" cy="148.5" r="0.79" fill="#2a2a84" opacity="0.63"/><circle cx="78.2" cy="152.8" r="0.53" fill="#2a2a84" opacity="0.58"/><circle cx="105.3" cy="156.2" r="0.75" fill="#2a2a84" opacity="0.58"/><circle cx="103.7" cy="157.0" r="0.51" fill="#2a2a84" opacity="0.66"/><circle cx="102.1" cy="152.6" r="0.55" fill="#2a2a84" opacity="0.74"/><circle cx="87.9" cy="173.6" r="0.48" fill="#2a2a84" opacity="0.79"/><circle cx="99.0" cy="178.0" r="0.39" fill="#2a2a84" opacity="0.56"/><circle cx="92.2" cy="179.2" r="0.46" fill="#2a2a84" opacity="0.65"/><circle cx="87.3" cy="180.7" r="0.50" fill="#2a2a84" opacity="0.67"/><circle cx="88.9" cy="143.5" r="0.73" fill="#2a2a84" opacity="0.69"/><circle cx="90.4" cy="142.3" r="0.73" fill="#2a2a84" opacity="0.65"/><circle cx="88.3" cy="148.7" r="0.80" fill="#2a2a84" opacity="0.68"/><circle cx="75.8" cy="163.0" r="0.73" fill="#2a2a84" opacity="0.77"/><circle cx="70.0" cy="150.8" r="0.80" fill="#2a2a84" opacity="0.88"/><circle cx="68.5" cy="166.6" r="0.37" fill="#2a2a84" opacity="0.55"/><circle cx="107.7" cy="160.6" r="0.66" fill="#2a2a84" opacity="0.91"/><circle cx="104.8" cy="170.7" r="0.35" fill="#2a2a84" opacity="0.55"/><circle cx="76.4" cy="175.5" r="0.65" fill="#2a2a84" opacity="0.54"/><circle cx="91.3" cy="160.4" r="0.75" fill="#2a2a84" opacity="0.61"/><circle cx="79.5" cy="162.1" r="0.58" fill="#2a2a84" opacity="0.53"/><circle cx="92.5" cy="178.4" r="0.59" fill="#2a2a84" opacity="0.81"/><circle cx="100.4" cy="147.8" r="0.41" fill="#2a2a84" opacity="0.55"/><circle cx="100.4" cy="172.2" r="0.45" fill="#2a2a84" opacity="0.67"/><circle cx="73.3" cy="147.9" r="0.67" fill="#2a2a84" opacity="0.73"/><circle cx="102.2" cy="152.4" r="0.72" fill="#2a2a84" opacity="0.78"/><circle cx="91.4" cy="179.0" r="0.54" fill="#2a2a84" opacity="0.69"/><circle cx="72.4" cy="172.0" r="0.60" fill="#2a2a84" opacity="0.71"/><circle cx="82.6" cy="180.6" r="0.45" fill="#2a2a84" opacity="0.82"/><circle cx="85.8" cy="157.9" r="0.60" fill="#2a2a84" opacity="0.59"/><circle cx="92.4" cy="176.3" r="0.63" fill="#2a2a84" opacity="0.83"/><circle cx="85.6" cy="157.0" r="0.70" fill="#2a2a84" opacity="0.87"/><circle cx="88.9" cy="157.8" r="0.44" fill="#2a2a84" opacity="0.55"/><circle cx="81.2" cy="154.7" r="0.78" fill="#2a2a84" opacity="0.94"/><circle cx="95.6" cy="154.8" r="0.44" fill="#2a2a84" opacity="0.87"/><circle cx="80.6" cy="141.5" r="0.61" fill="#2a2a84" opacity="0.69"/><circle cx="75.3" cy="168.0" r="0.65" fill="#2a2a84" opacity="0.55"/><circle cx="80.8" cy="141.5" r="0.45" fill="#2a2a84" opacity="0.65"/><circle cx="68.2" cy="156.7" r="0.77" fill="#2a2a84" opacity="0.59"/><circle cx="89.4" cy="143.6" r="0.55" fill="#2a2a84" opacity="0.70"/><circle cx="81.2" cy="169.5" r="0.44" fill="#2a2a84" opacity="0.71"/><circle cx="92.3" cy="175.4" r="0.49" fill="#2a2a84" opacity="0.58"/><circle cx="79.5" cy="155.4" r="0.63" fill="#2a2a84" opacity="0.80"/><circle cx="95.2" cy="153.9" r="0.44" fill="#2a2a84" opacity="0.88"/><circle cx="80.7" cy="180.7" r="0.44" fill="#2a2a84" opacity="0.64"/><circle cx="78.5" cy="179.3" r="0.50" fill="#2a2a84" opacity="0.70"/><circle cx="84.5" cy="162.5" r="0.61" fill="#2a2a84" opacity="0.56"/><circle cx="94.1" cy="171.1" r="0.38" fill="#2a2a84" opacity="0.76"/><circle cx="99.0" cy="154.0" r="0.71" fill="#2a2a84" opacity="0.91"/><circle cx="99.0" cy="178.2" r="0.77" fill="#2a2a84" opacity="0.59"/><circle cx="82.5" cy="146.5" r="0.67" fill="#2a2a84" opacity="0.74"/><circle cx="88.6" cy="178.6" r="0.65" fill="#2a2a84" opacity="0.56"/><circle cx="73.3" cy="148.2" r="0.79" fill="#2a2a84" opacity="0.68"/><circle cx="69.1" cy="164.0" r="0.45" fill="#2a2a84" opacity="0.74"/><circle cx="95.4" cy="142.2" r="0.65" fill="#2a2a84" opacity="0.52"/><circle cx="81.8" cy="142.7" r="0.40" fill="#2a2a84" opacity="0.73"/><circle cx="71.8" cy="159.3" r="0.67" fill="#2a2a84" opacity="0.83"/><circle cx="90.3" cy="179.9" r="0.41" fill="#2a2a84" opacity="0.56"/><circle cx="80.1" cy="175.3" r="0.64" fill="#2a2a84" opacity="0.92"/><circle cx="91.6" cy="164.7" r="0.65" fill="#2a2a84" opacity="0.70"/><circle cx="99.5" cy="176.4" r="0.56" fill="#2a2a84" opacity="0.92"/><circle cx="74.2" cy="177.5" r="0.62" fill="#2a2a84" opacity="0.55"/><circle cx="91.3" cy="140.9" r="0.64" fill="#2a2a84" opacity="0.86"/><circle cx="102.5" cy="149.2" r="0.36" fill="#2a2a84" opacity="0.65"/><circle cx="97.3" cy="144.4" r="0.80" fill="#2a2a84" opacity="0.82"/><circle cx="99.4" cy="146.5" r="0.62" fill="#2a2a84" opacity="0.70"/><circle cx="79.8" cy="165.1" r="0.37" fill="#2a2a84" opacity="0.77"/><circle cx="102.9" cy="157.8" r="0.48" fill="#2a2a84" opacity="0.91"/><circle cx="106.5" cy="166.2" r="0.75" fill="#2a2a84" opacity="0.68"/><circle cx="103.3" cy="150.7" r="0.38" fill="#2a2a84" opacity="0.61"/><circle cx="93.8" cy="178.6" r="0.58" fill="#2a2a84" opacity="0.63"/><circle cx="75.8" cy="145.6" r="0.59" fill="#2a2a84" opacity="0.68"/><circle cx="103.1" cy="151.6" r="0.56" fill="#2a2a84" opacity="0.67"/><circle cx="101.1" cy="158.8" r="0.55" fill="#2a2a84" opacity="0.70"/><circle cx="102.2" cy="156.3" r="0.42" fill="#2a2a84" opacity="0.77"/><circle cx="98.9" cy="173.7" r="0.67" fill="#2a2a84" opacity="0.94"/><circle cx="80.4" cy="153.6" r="0.55" fill="#2a2a84" opacity="0.71"/><circle cx="70.9" cy="169.6" r="0.69" fill="#2a2a84" opacity="0.93"/><circle cx="88.3" cy="158.2" r="0.49" fill="#2a2a84" opacity="0.88"/><circle cx="101.8" cy="158.6" r="0.66" fill="#2a2a84" opacity="0.61"/><circle cx="82.1" cy="141.4" r="0.56" fill="#2a2a84" opacity="0.80"/><circle cx="74.2" cy="156.5" r="0.78" fill="#2a2a84" opacity="0.84"/><circle cx="70.3" cy="170.3" r="0.69" fill="#2a2a84" opacity="0.79"/><circle cx="105.7" cy="156.2" r="0.63" fill="#2a2a84" opacity="0.70"/><circle cx="99.1" cy="158.3" r="0.63" fill="#2a2a84" opacity="0.84"/><circle cx="80.2" cy="142.1" r="0.51" fill="#2a2a84" opacity="0.57"/><circle cx="80.4" cy="150.2" r="0.57" fill="#2a2a84" opacity="0.94"/><circle cx="94.3" cy="141.9" r="0.61" fill="#2a2a84" opacity="0.68"/><circle cx="75.5" cy="146.1" r="0.65" fill="#2a2a84" opacity="0.80"/><circle cx="71.5" cy="172.3" r="0.40" fill="#2a2a84" opacity="0.92"/><circle cx="75.8" cy="174.2" r="0.43" fill="#2a2a84" opacity="0.88"/><circle cx="78.0" cy="178.5" r="0.53" fill="#2a2a84" opacity="0.91"/><circle cx="70.6" cy="167.1" r="0.36" fill="#2a2a84" opacity="0.72"/></g>
</g>
<clipPath id="pc3"><rect x="113.2" y="137.2" width="51.1" height="51.2"/></clipPath>
<g clip-path="url(#pc3)">
<rect x="113.2" y="137.2" width="51.1" height="51.2" fill="#5e686a"/>
<rect x="113.2" y="137.2" width="51.1" height="1.2" fill="#6c7684"/>
<circle cx="138.9" cy="162.8" r="24.4" fill="#646b86"/>
<circle cx="138.9" cy="162.8" r="23.4" fill="#5e6973" stroke="#8a90a8" stroke-width="0.9"/>
<circle cx="138.9" cy="162.8" r="21.4" fill="none" stroke="#6c7490" stroke-width="2.2" opacity="0.8"/>
<path d="M120.18,177.30800000000002 A22.599999999999998,22.599999999999998 0 0 0 157.62,177.30800000000002" fill="none" stroke="#9a9eba" stroke-width="0.8" opacity="0.6"/>
<g filter="url(#bl3)"><circle cx="139.9" cy="175.5" r="0.62" fill="#2a2a84" opacity="0.78"/><circle cx="158.4" cy="171.3" r="0.47" fill="#2a2a84" opacity="0.61"/><circle cx="158.0" cy="162.3" r="0.56" fill="#2a2a84" opacity="0.79"/><circle cx="150.3" cy="178.6" r="0.59" fill="#2a2a84" opacity="0.83"/><circle cx="129.0" cy="144.4" r="0.62" fill="#2a2a84" opacity="0.64"/><circle cx="153.0" cy="165.6" r="0.67" fill="#2a2a84" opacity="0.90"/><circle cx="136.0" cy="150.0" r="0.71" fill="#2a2a84" opacity="0.70"/><circle cx="144.9" cy="160.2" r="0.41" fill="#2a2a84" opacity="0.60"/><circle cx="155.1" cy="159.2" r="0.49" fill="#2a2a84" opacity="0.73"/><circle cx="126.9" cy="173.3" r="0.61" fill="#2a2a84" opacity="0.91"/><circle cx="130.9" cy="145.2" r="0.80" fill="#2a2a84" opacity="0.80"/><circle cx="149.6" cy="180.3" r="0.76" fill="#2a2a84" opacity="0.76"/><circle cx="134.1" cy="142.1" r="0.61" fill="#2a2a84" opacity="0.63"/><circle cx="158.1" cy="170.9" r="0.39" fill="#2a2a84" opacity="0.86"/><circle cx="122.7" cy="173.0" r="0.70" fill="#2a2a84" opacity="0.89"/><circle cx="143.2" cy="164.0" r="0.67" fill="#2a2a84" opacity="0.65"/><circle cx="149.8" cy="152.7" r="0.80" fill="#2a2a84" opacity="0.64"/><circle cx="142.2" cy="164.5" r="0.44" fill="#2a2a84" opacity="0.68"/><circle cx="125.0" cy="151.2" r="0.74" fill="#2a2a84" opacity="0.64"/><circle cx="151.3" cy="159.5" r="0.56" fill="#2a2a84" opacity="0.73"/><circle cx="129.2" cy="150.5" r="0.63" fill="#2a2a84" opacity="0.92"/><circle cx="121.2" cy="162.0" r="0.46" fill="#2a2a84" opacity="0.64"/><circle cx="154.2" cy="160.6" r="0.36" fill="#2a2a84" opacity="0.69"/><circle cx="121.0" cy="153.0" r="0.63" fill="#2a2a84" opacity="0.53"/><circle cx="126.9" cy="150.4" r="0.51" fill="#2a2a84" opacity="0.82"/><circle cx="137.5" cy="144.7" r="0.65" fill="#2a2a84" opacity="0.93"/><circle cx="138.8" cy="178.9" r="0.49" fill="#2a2a84" opacity="0.66"/><circle cx="132.7" cy="177.7" r="0.49" fill="#2a2a84" opacity="0.67"/><circle cx="141.7" cy="142.8" r="0.68" fill="#2a2a84" opacity="0.64"/><circle cx="140.7" cy="172.9" r="0.43" fill="#2a2a84" opacity="0.70"/><circle cx="132.7" cy="144.6" r="0.50" fill="#2a2a84" opacity="0.88"/><circle cx="130.9" cy="166.0" r="0.50" fill="#2a2a84" opacity="0.79"/><circle cx="146.3" cy="156.2" r="0.40" fill="#2a2a84" opacity="0.74"/><circle cx="145.9" cy="180.6" r="0.43" fill="#2a2a84" opacity="0.63"/><circle cx="145.5" cy="145.2" r="0.51" fill="#2a2a84" opacity="0.56"/><circle cx="136.1" cy="173.3" r="0.51" fill="#2a2a84" opacity="0.69"/><circle cx="121.3" cy="172.5" r="0.42" fill="#2a2a84" opacity="0.50"/><circle cx="158.4" cy="155.6" r="0.55" fill="#2a2a84" opacity="0.93"/><circle cx="157.7" cy="153.6" r="0.73" fill="#2a2a84" opacity="0.80"/><circle cx="126.8" cy="161.3" r="0.45" fill="#2a2a84" opacity="0.53"/><circle cx="122.9" cy="152.9" r="0.37" fill="#2a2a84" opacity="0.91"/><circle cx="132.0" cy="144.2" r="0.75" fill="#2a2a84" opacity="0.76"/><circle cx="147.5" cy="163.5" r="0.48" fill="#2a2a84" opacity="0.80"/><circle cx="118.9" cy="159.6" r="0.63" fill="#2a2a84" opacity="0.65"/><circle cx="138.7" cy="177.2" r="0.70" fill="#2a2a84" opacity="0.66"/></g>
</g>
<text x="34.0" y="134.6" font-family="'Liberation Serif', serif" font-size="7.2" font-weight="normal" text-anchor="middle" fill="#000" stroke="#000" stroke-width="0.288" textLength="19.5" lengthAdjust="spacingAndGlyphs">control</text>
<text x="86.8" y="134.6" font-family="'Liberation Serif', serif" font-size="7.2" font-weight="normal" text-anchor="middle" fill="#000" stroke="#000" stroke-width="0.288" textLength="18.5" lengthAdjust="spacingAndGlyphs">sh-NC</text>
<text x="138.5" y="134.6" font-family="'Liberation Serif', serif" font-size="7.2" font-weight="normal" text-anchor="middle" fill="#000" stroke="#000" stroke-width="0.288" textLength="31.5" lengthAdjust="spacingAndGlyphs">sh-LAMP3</text>
<text x="77.5" y="197.8" font-family="'Liberation Serif', serif" font-size="7.3" font-weight="bold" text-anchor="middle" fill="#000" stroke="#000" stroke-width="0.292" textLength="22" lengthAdjust="spacingAndGlyphs">CAL-27</text>
<rect x="204.0" y="132.70533333333333" width="9.7" height="49.69466666666668" fill="#8e5c9f" stroke="#555" stroke-width="0.25"/>
<line x1="208.85" y1="127.29666666666668" x2="208.85" y2="132.70533333333333" stroke="#777" stroke-width="0.5"/>
<line x1="207.04999999999998" y1="127.29666666666668" x2="210.65" y2="127.29666666666668" stroke="#777" stroke-width="0.55"/>
<line x1="208.85" y1="182.4" x2="208.85" y2="185.4" stroke="#444" stroke-width="0.65"/>
<rect x="218.4" y="130.184" width="9.8" height="52.21600000000001" fill="#629ca9" stroke="#555" stroke-width="0.25"/>
<line x1="223.3" y1="126.524" x2="223.3" y2="130.184" stroke="#777" stroke-width="0.5"/>
<line x1="221.5" y1="126.524" x2="225.10000000000002" y2="126.524" stroke="#777" stroke-width="0.55"/>
<line x1="223.3" y1="182.4" x2="223.3" y2="185.4" stroke="#444" stroke-width="0.65"/>
<rect x="233.1" y="158.61" width="9.8" height="23.789999999999992" fill="#efb762" stroke="#555" stroke-width="0.25"/>
<line x1="238.0" y1="157.59333333333333" x2="238.0" y2="158.61" stroke="#777" stroke-width="0.5"/>
<line x1="236.2" y1="157.59333333333333" x2="239.8" y2="157.59333333333333" stroke="#777" stroke-width="0.55"/>
<line x1="238.0" y1="182.4" x2="238.0" y2="185.4" stroke="#444" stroke-width="0.65"/>
<line x1="198.9" y1="121.0" x2="198.9" y2="182.4" stroke="#8c8c8c" stroke-width="1.0"/>
<line x1="195.9" y1="182.4" x2="248.0" y2="182.4" stroke="#111" stroke-width="1.0"/>
<text x="194.9" y="184.056" font-family="'Liberation Serif', serif" font-size="4.6" font-weight="bold" text-anchor="end" fill="#000" stroke="#000" stroke-width="0.22999999999999998">0</text>
<line x1="195.9" y1="162.06666666666666" x2="198.9" y2="162.06666666666666" stroke="#111" stroke-width="0.9"/>
<text x="194.9" y="163.72266666666667" font-family="'Liberation Serif', serif" font-size="4.6" font-weight="bold" text-anchor="end" fill="#000" stroke="#000" stroke-width="0.22999999999999998">50</text>
<line x1="195.9" y1="141.73333333333335" x2="198.9" y2="141.73333333333335" stroke="#111" stroke-width="0.9"/>
<text x="194.9" y="143.38933333333335" font-family="'Liberation Serif', serif" font-size="4.6" font-weight="bold" text-anchor="end" fill="#000" stroke="#000" stroke-width="0.22999999999999998">100</text>
<line x1="195.9" y1="121.4" x2="198.9" y2="121.4" stroke="#111" stroke-width="0.9"/>
<text x="194.9" y="123.05600000000001" font-family="'Liberation Serif', serif" font-size="4.6" font-weight="bold" text-anchor="end" fill="#000" stroke="#000" stroke-width="0.22999999999999998">150</text>
<text x="186.0" y="149.8" font-family="'Liberation Serif', serif" font-size="5.2" font-weight="bold" text-anchor="middle" fill="#000" stroke="#000" stroke-width="0.156" transform="rotate(-90 186.0 149.8)" textLength="34" lengthAdjust="spacingAndGlyphs">Number of colonies</text>
<text x="217.5" y="114.2" font-family="'Liberation Serif', serif" font-size="4.6" font-weight="bold" text-anchor="middle" fill="#000" stroke="#000" stroke-width="0.138" textLength="15.3" lengthAdjust="spacingAndGlyphs">CAL-27</text>
<text x="223.3" y="124.6" font-family="'Liberation Serif', serif" font-size="5.0" font-weight="normal" text-anchor="middle" fill="#000" stroke="#000" stroke-width="0.15">ns</text>
<text x="238.0" y="157.0" font-family="'Liberation Serif', serif" font-size="4.5" font-weight="bold" text-anchor="middle" fill="#000" stroke="#000" stroke-width="0.135">***</text>
<text x="210.0" y="189.3" font-family="'Liberation Serif', serif" font-size="4.4" font-weight="bold" text-anchor="end" fill="#000" stroke="#000" stroke-width="0.132" transform="rotate(-45 210.0 189.3)">control</text>
<text x="224.5" y="189.3" font-family="'Liberation Serif', serif" font-size="4.4" font-weight="bold" text-anchor="end" fill="#000" stroke="#000" stroke-width="0.132" transform="rotate(-45 224.5 189.3)">sh-NC</text>
<text x="239.2" y="189.3" font-family="'Liberation Serif', serif" font-size="4.4" font-weight="bold" text-anchor="end" fill="#000" stroke="#000" stroke-width="0.132" transform="rotate(-45 239.2 189.3)">sh-LAMP3</text>
<text transform="translate(265.4 119.35) scale(0.9 1)" x="0" y="0" font-family="'Liberation Sans', sans-serif" font-size="8.9" font-weight="bold" fill="#000" stroke="#000" stroke-width="0.3">D</text>
<rect x="284.8" y="136.1" width="58.4" height="41.0" fill="#050000"/>
<clipPath id="fc284"><rect x="284.8" y="136.1" width="58.4" height="41.0"/></clipPath>
<g clip-path="url(#fc284)"><g filter="url(#bl4)"><ellipse cx="292.2" cy="152" rx="1.6" ry="3.5" fill="#9c1515" opacity="0.55"/><ellipse cx="288.4" cy="143.2" rx="0.9" ry="0.9" fill="#9c1515" opacity="0.5"/><ellipse cx="298.3" cy="161.4" rx="1.7" ry="1.7" fill="#9c1515" opacity="0.5"/><ellipse cx="303.2" cy="164.7" rx="1.8" ry="1.8" fill="#9c1515" opacity="0.55"/><ellipse cx="298.3" cy="168" rx="1.6" ry="1.6" fill="#9c1515" opacity="0.5"/><ellipse cx="306" cy="170.2" rx="1.7" ry="1.7" fill="#9c1515" opacity="0.6"/><ellipse cx="310.9" cy="161.4" rx="1.6" ry="1.6" fill="#9c1515" opacity="0.5"/><ellipse cx="313.1" cy="154.8" rx="1.5" ry="1.5" fill="#9c1515" opacity="0.45"/><ellipse cx="318.1" cy="164.7" rx="1.8" ry="1.8" fill="#9c1515" opacity="0.6"/><ellipse cx="317" cy="139.4" rx="1.2" ry="1.2" fill="#9c1515" opacity="0.45"/><ellipse cx="324.7" cy="141.6" rx="1.8" ry="1.8" fill="#9c1515" opacity="0.55"/><ellipse cx="321.9" cy="144.9" rx="1.5" ry="1.5" fill="#9c1515" opacity="0.5"/><ellipse cx="324.7" cy="152.6" rx="1.8" ry="1.8" fill="#9c1515" opacity="0.6"/><ellipse cx="325.8" cy="157" rx="1.6" ry="1.6" fill="#9c1515" opacity="0.55"/><ellipse cx="331.3" cy="141.6" rx="1.6" ry="1.6" fill="#9c1515" opacity="0.5"/><ellipse cx="336.7" cy="149.3" rx="1.8" ry="1.8" fill="#9c1515" opacity="0.6"/><ellipse cx="332.4" cy="154.8" rx="1.5" ry="1.5" fill="#9c1515" opacity="0.45"/><ellipse cx="326.9" cy="164.7" rx="1.6" ry="1.6" fill="#9c1515" opacity="0.5"/><ellipse cx="322.5" cy="171.3" rx="1.5" ry="1.5" fill="#9c1515" opacity="0.45"/><ellipse cx="311.5" cy="171.3" rx="1.5" ry="1.5" fill="#9c1515" opacity="0.45"/><ellipse cx="307" cy="157" rx="1.4" ry="1.4" fill="#9c1515" opacity="0.4"/><ellipse cx="317" cy="151.5" rx="1.4" ry="1.4" fill="#9c1515" opacity="0.4"/><ellipse cx="335.6" cy="163.6" rx="1.4" ry="1.4" fill="#9c1515" opacity="0.4"/><ellipse cx="302" cy="150" rx="1.2" ry="1.2" fill="#9c1515" opacity="0.35"/><ellipse cx="329" cy="170" rx="1.3" ry="1.3" fill="#9c1515" opacity="0.4"/><ellipse cx="294" cy="170" rx="1.3" ry="1.3" fill="#9c1515" opacity="0.45"/></g></g>
<rect x="344.4" y="136.1" width="57.2" height="41.0" fill="#050000"/>
<clipPath id="fc344"><rect x="344.4" y="136.1" width="57.2" height="41.0"/></clipPath>
<g clip-path="url(#fc344)"><g filter="url(#bl4)"><ellipse cx="349.6" cy="146" rx="1.9" ry="1.9" fill="#a01414" opacity="0.6"/><ellipse cx="360.6" cy="151.5" rx="2.0" ry="2.0" fill="#a01414" opacity="0.75"/><ellipse cx="362.8" cy="155.3" rx="2.0" ry="2.0" fill="#a01414" opacity="0.75"/><ellipse cx="369.4" cy="150.4" rx="2.4" ry="2.4" fill="#a01414" opacity="0.85"/><ellipse cx="372.7" cy="151.5" rx="1.8" ry="1.8" fill="#a01414" opacity="0.7"/><ellipse cx="365" cy="160.3" rx="2.0" ry="2.0" fill="#a01414" opacity="0.75"/><ellipse cx="361.7" cy="162.5" rx="1.8" ry="1.8" fill="#a01414" opacity="0.7"/><ellipse cx="356.2" cy="160.3" rx="1.9" ry="1.9" fill="#a01414" opacity="0.7"/><ellipse cx="354" cy="163.6" rx="1.9" ry="1.9" fill="#a01414" opacity="0.75"/><ellipse cx="355.1" cy="168" rx="2.0" ry="2.0" fill="#a01414" opacity="0.7"/><ellipse cx="351.8" cy="170.2" rx="1.8" ry="1.8" fill="#a01414" opacity="0.65"/><ellipse cx="346.3" cy="168" rx="2.0" ry="2.0" fill="#a01414" opacity="0.7"/><ellipse cx="347.4" cy="170.2" rx="1.8" ry="1.8" fill="#a01414" opacity="0.65"/><ellipse cx="363.3" cy="168" rx="1.6" ry="1.6" fill="#a01414" opacity="0.6"/><ellipse cx="373.8" cy="161.9" rx="2.0" ry="2.0" fill="#a01414" opacity="0.75"/><ellipse cx="376" cy="164.7" rx="1.8" ry="1.8" fill="#a01414" opacity="0.7"/><ellipse cx="377.1" cy="155.3" rx="1.8" ry="1.8" fill="#a01414" opacity="0.6"/><ellipse cx="392.5" cy="158.6" rx="2.0" ry="2.0" fill="#a01414" opacity="0.65"/><ellipse cx="376" cy="173.5" rx="1.7" ry="1.7" fill="#a01414" opacity="0.55"/><ellipse cx="365.5" cy="142.1" rx="1.0" ry="1.0" fill="#a01414" opacity="0.3"/><ellipse cx="394.6" cy="136.6" rx="0.9" ry="0.9" fill="#a01414" opacity="0.3"/><ellipse cx="366" cy="147" rx="1.7" ry="1.7" fill="#a01414" opacity="0.6"/><ellipse cx="359" cy="156.5" rx="1.5" ry="1.5" fill="#a01414" opacity="0.6"/><ellipse cx="368.5" cy="156" rx="1.5" ry="1.5" fill="#a01414" opacity="0.55"/></g></g>
<rect x="402.9" y="136.1" width="58.2" height="40.9" fill="#050000"/>
<clipPath id="fc402"><rect x="402.9" y="136.1" width="58.2" height="40.9"/></clipPath>
<g clip-path="url(#fc402)"><g filter="url(#bl4)"><ellipse cx="418" cy="147.6" rx="1.8" ry="1.8" fill="#b81414" opacity="0.8"/><ellipse cx="422.9" cy="148.7" rx="1.3" ry="2.0" fill="#b81414" opacity="0.75"/><ellipse cx="411.3" cy="154.8" rx="1.8" ry="1.8" fill="#b81414" opacity="0.8"/><ellipse cx="415.2" cy="155.9" rx="1.9" ry="1.9" fill="#b81414" opacity="0.85"/><ellipse cx="419.6" cy="152.6" rx="1.7" ry="1.7" fill="#b81414" opacity="0.8"/><ellipse cx="412.4" cy="161.4" rx="1.4" ry="2.0" fill="#b81414" opacity="0.7"/><ellipse cx="431.1" cy="157" rx="1.6" ry="1.6" fill="#b81414" opacity="0.7"/><ellipse cx="427.3" cy="161.4" rx="1.8" ry="1.2" fill="#b81414" opacity="0.65"/><ellipse cx="433.9" cy="146.5" rx="1.6" ry="1.6" fill="#b81414" opacity="0.7"/><ellipse cx="439.4" cy="143.8" rx="1.4" ry="1.4" fill="#b81414" opacity="0.7"/><ellipse cx="437.2" cy="146.5" rx="1.5" ry="1.5" fill="#b81414" opacity="0.7"/><ellipse cx="439.4" cy="159.7" rx="1.9" ry="1.3" fill="#b81414" opacity="0.7"/><ellipse cx="438.3" cy="168" rx="1.8" ry="1.8" fill="#b81414" opacity="0.8"/><ellipse cx="441.6" cy="170.2" rx="1.8" ry="1.8" fill="#b81414" opacity="0.8"/><ellipse cx="436" cy="172.4" rx="1.6" ry="1.6" fill="#b81414" opacity="0.75"/><ellipse cx="444.9" cy="173.5" rx="1.5" ry="1.5" fill="#b81414" opacity="0.7"/><ellipse cx="460.2" cy="146" rx="1.0" ry="1.0" fill="#b81414" opacity="0.5"/><ellipse cx="441" cy="165" rx="1.4" ry="1.4" fill="#b81414" opacity="0.6"/><ellipse cx="435" cy="166" rx="1.2" ry="1.2" fill="#b81414" opacity="0.6"/><ellipse cx="415.5" cy="152" rx="1.3" ry="1.3" fill="#b81414" opacity="0.7"/></g></g>
<text x="314.5" y="134.0" font-family="'Liberation Serif', serif" font-size="7.2" font-weight="normal" text-anchor="middle" fill="#000" stroke="#000" stroke-width="0.288" textLength="19.5" lengthAdjust="spacingAndGlyphs">control</text>
<text x="372.6" y="134.0" font-family="'Liberation Serif', serif" font-size="7.2" font-weight="normal" text-anchor="middle" fill="#000" stroke="#000" stroke-width="0.288" textLength="18.5" lengthAdjust="spacingAndGlyphs">sh-NC</text>
<text x="431.3" y="134.0" font-family="'Liberation Serif', serif" font-size="7.2" font-weight="normal" text-anchor="middle" fill="#000" stroke="#000" stroke-width="0.288" textLength="31.5" lengthAdjust="spacingAndGlyphs">sh-LAMP3</text>
<text x="364.6" y="186.4" font-family="'Liberation Serif', serif" font-size="7.3" font-weight="bold" text-anchor="middle" fill="#000" stroke="#000" stroke-width="0.292" textLength="22.5" lengthAdjust="spacingAndGlyphs">CAL-27</text>
<text transform="translate(2.8 211.25) scale(0.9 1)" x="0" y="0" font-family="'Liberation Sans', sans-serif" font-size="8.9" font-weight="bold" fill="#000" stroke="#000" stroke-width="0.3">E</text>
<text x="86.2" y="222.2" font-family="'Liberation Serif', serif" font-size="7.3" font-weight="bold" text-anchor="middle" fill="#000" stroke="#000" stroke-width="0.292" textLength="22" lengthAdjust="spacingAndGlyphs">CAL-27</text>
<line x1="10.6" y1="235.0" x2="10.6" y2="276.2" stroke="#666" stroke-width="0.35"/>
<line x1="10.6" y1="276.2" x2="59.7" y2="276.2" stroke="#666" stroke-width="0.35"/>
<line x1="9.7" y1="276.2" x2="10.6" y2="276.2" stroke="#666" stroke-width="0.3"/>
<line x1="10.1" y1="272.08" x2="10.6" y2="272.08" stroke="#666" stroke-width="0.3"/>
<line x1="9.7" y1="267.96" x2="10.6" y2="267.96" stroke="#666" stroke-width="0.3"/>
<line x1="10.1" y1="263.84" x2="10.6" y2="263.84" stroke="#666" stroke-width="0.3"/>
<line x1="9.7" y1="259.71999999999997" x2="10.6" y2="259.71999999999997" stroke="#666" stroke-width="0.3"/>
<line x1="10.1" y1="255.6" x2="10.6" y2="255.6" stroke="#666" stroke-width="0.3"/>
<line x1="9.7" y1="251.48" x2="10.6" y2="251.48" stroke="#666" stroke-width="0.3"/>
<line x1="10.1" y1="247.35999999999999" x2="10.6" y2="247.35999999999999" stroke="#666" stroke-width="0.3"/>
<line x1="9.7" y1="243.24" x2="10.6" y2="243.24" stroke="#666" stroke-width="0.3"/>
<line x1="10.1" y1="239.12" x2="10.6" y2="239.12" stroke="#666" stroke-width="0.3"/>
<line x1="9.7" y1="235.0" x2="10.6" y2="235.0" stroke="#666" stroke-width="0.3"/>
<text x="8.3" y="276.8" font-family="'Liberation Serif', serif" font-size="1.7" font-weight="normal" text-anchor="end" fill="#666" stroke="#666" stroke-width="0.051">0</text>
<text x="8.3" y="268.56" font-family="'Liberation Serif', serif" font-size="1.7" font-weight="normal" text-anchor="end" fill="#666" stroke="#666" stroke-width="0.051">20</text>
<text x="8.3" y="260.32" font-family="'Liberation Serif', serif" font-size="1.7" font-weight="normal" text-anchor="end" fill="#666" stroke="#666" stroke-width="0.051">40</text>
<text x="8.3" y="252.07999999999998" font-family="'Liberation Serif', serif" font-size="1.7" font-weight="normal" text-anchor="end" fill="#666" stroke="#666" stroke-width="0.051">60</text>
<text x="8.3" y="243.84" font-family="'Liberation Serif', serif" font-size="1.7" font-weight="normal" text-anchor="end" fill="#666" stroke="#666" stroke-width="0.051">80</text>
<text x="8.3" y="235.6" font-family="'Liberation Serif', serif" font-size="1.7" font-weight="normal" text-anchor="end" fill="#666" stroke="#666" stroke-width="0.051">100</text>
<line x1="10.6" y1="276.2" x2="10.6" y2="277.2" stroke="#666" stroke-width="0.3"/>
<text x="10.6" y="279.0" font-family="'Liberation Serif', serif" font-size="1.6" font-weight="normal" text-anchor="middle" fill="#666" stroke="#666" stroke-width="0.048">0</text>
<line x1="24.2" y1="276.2" x2="24.2" y2="277.2" stroke="#666" stroke-width="0.3"/>
<text x="24.2" y="279.0" font-family="'Liberation Serif', serif" font-size="1.6" font-weight="normal" text-anchor="middle" fill="#666" stroke="#666" stroke-width="0.048">50</text>
<line x1="37.8" y1="276.2" x2="37.8" y2="277.2" stroke="#666" stroke-width="0.3"/>
<text x="37.8" y="279.0" font-family="'Liberation Serif', serif" font-size="1.6" font-weight="normal" text-anchor="middle" fill="#666" stroke="#666" stroke-width="0.048">100</text>
<line x1="51.4" y1="276.2" x2="51.4" y2="277.2" stroke="#666" stroke-width="0.3"/>
<text x="51.4" y="279.0" font-family="'Liberation Serif', serif" font-size="1.6" font-weight="normal" text-anchor="middle" fill="#666" stroke="#666" stroke-width="0.048">150</text>
<text x="33.15" y="280.8" font-family="'Liberation Serif', serif" font-size="1.6" font-weight="normal" text-anchor="middle" fill="#666" stroke="#666" stroke-width="0.048">Channels</text>
<text x="6.1" y="255.6" font-family="'Liberation Serif', serif" font-size="1.6" font-weight="normal" text-anchor="middle" fill="#666" stroke="#666" stroke-width="0.048" transform="rotate(-90 6.1 255.6)">Number</text>
<path d="M14.4,276.2 C14.75,275.97 15.87,275.67 16.5,274.8 C17.13,273.93 17.70,272.63 18.2,271 C18.70,269.37 19.07,267.57 19.5,265 C19.93,262.43 20.38,258.43 20.8,255.6 C21.22,252.77 21.60,250.02 22,248 C22.40,245.98 22.87,244.37 23.2,243.5 C23.53,242.63 23.70,242.72 24,242.8 C24.30,242.88 24.58,242.93 25,244 C25.42,245.07 26.08,247.20 26.5,249.2 C26.92,251.20 27.22,253.87 27.5,256 C27.78,258.13 27.93,259.73 28.2,262 C28.47,264.27 28.72,268.28 29.1,269.6 C29.48,270.92 30.02,269.92 30.5,269.9 C30.98,269.88 31.38,269.62 32,269.5 C32.62,269.38 33.45,269.15 34.2,269.2 C34.95,269.25 35.78,269.45 36.5,269.8 C37.22,270.15 37.92,270.83 38.5,271.3 C39.08,271.77 39.33,272.10 40,272.6 C40.67,273.10 41.67,273.83 42.5,274.3 C43.33,274.77 44.15,275.08 45,275.4 C45.85,275.72 47.17,276.07 47.6,276.2 Z" fill="#f00202" stroke="#a00808" stroke-width="0.35"/>
<path d="M25.5,276.2 C26.08,275.97 27.92,275.30 29,274.8 C30.08,274.30 31.00,273.57 32,273.2 C33.00,272.83 34.00,272.63 35,272.6 C36.00,272.57 37.00,272.70 38,273 C39.00,273.30 40.00,273.97 41,274.4 C42.00,274.83 43.17,275.30 44,275.6 C44.83,275.90 45.67,276.10 46,276.2 Z" fill="#c20c10"/>
<path d="M25.6,243.5 C25.87,244.42 26.77,246.92 27.2,249 C27.63,251.08 27.92,253.83 28.2,256 C28.48,258.17 28.67,260.08 28.9,262 C29.13,263.92 29.25,266.45 29.6,267.5 C29.95,268.55 30.43,268.18 31,268.3 C31.57,268.42 32.25,268.18 33,268.2 C33.75,268.22 34.75,268.20 35.5,268.4 C36.25,268.60 36.75,268.87 37.5,269.4 C38.25,269.93 39.08,270.87 40,271.6 C40.92,272.33 41.83,273.13 43,273.8 C44.17,274.47 45.83,275.20 47,275.6 C48.17,276.00 49.50,276.10 50,276.2 " fill="none" stroke="#808080" stroke-width="0.5" stroke-dasharray="0.9,0.4"/>
<path d="M23.549999999999997,248 L23.9,239.0 L24.25,248" fill="none" stroke="#808080" stroke-width="0.35"/>
<line x1="71.6" y1="234.6" x2="71.6" y2="276.4" stroke="#666" stroke-width="0.35"/>
<line x1="71.6" y1="276.4" x2="120.0" y2="276.4" stroke="#666" stroke-width="0.35"/>
<line x1="70.69999999999999" y1="276.4" x2="71.6" y2="276.4" stroke="#666" stroke-width="0.3"/>
<line x1="71.1" y1="272.21999999999997" x2="71.6" y2="272.21999999999997" stroke="#666" stroke-width="0.3"/>
<line x1="70.69999999999999" y1="268.03999999999996" x2="71.6" y2="268.03999999999996" stroke="#666" stroke-width="0.3"/>
<line x1="71.1" y1="263.85999999999996" x2="71.6" y2="263.85999999999996" stroke="#666" stroke-width="0.3"/>
<line x1="70.69999999999999" y1="259.68" x2="71.6" y2="259.68" stroke="#666" stroke-width="0.3"/>
<line x1="71.1" y1="255.5" x2="71.6" y2="255.5" stroke="#666" stroke-width="0.3"/>
<line x1="70.69999999999999" y1="251.32" x2="71.6" y2="251.32" stroke="#666" stroke-width="0.3"/>
<line x1="71.1" y1="247.14" x2="71.6" y2="247.14" stroke="#666" stroke-width="0.3"/>
<line x1="70.69999999999999" y1="242.95999999999998" x2="71.6" y2="242.95999999999998" stroke="#666" stroke-width="0.3"/>
<line x1="71.1" y1="238.78" x2="71.6" y2="238.78" stroke="#666" stroke-width="0.3"/>
<line x1="70.69999999999999" y1="234.6" x2="71.6" y2="234.6" stroke="#666" stroke-width="0.3"/>
<text x="69.3" y="277.0" font-family="'Liberation Serif', serif" font-size="1.7" font-weight="normal" text-anchor="end" fill="#666" stroke="#666" stroke-width="0.051">0</text>
<text x="69.3" y="268.64" font-family="'Liberation Serif', serif" font-size="1.7" font-weight="normal" text-anchor="end" fill="#666" stroke="#666" stroke-width="0.051">20</text>
<text x="69.3" y="260.28000000000003" font-family="'Liberation Serif', serif" font-size="1.7" font-weight="normal" text-anchor="end" fill="#666" stroke="#666" stroke-width="0.051">40</text>
<text x="69.3" y="251.92" font-family="'Liberation Serif', serif" font-size="1.7" font-weight="normal" text-anchor="end" fill="#666" stroke="#666" stroke-width="0.051">60</text>
<text x="69.3" y="243.55999999999997" font-family="'Liberation Serif', serif" font-size="1.7" font-weight="normal" text-anchor="end" fill="#666" stroke="#666" stroke-width="0.051">80</text>
<text x="69.3" y="235.2" font-family="'Liberation Serif', serif" font-size="1.7" font-weight="normal" text-anchor="end" fill="#666" stroke="#666" stroke-width="0.051">100</text>
<line x1="71.6" y1="276.4" x2="71.6" y2="277.4" stroke="#666" stroke-width="0.3"/>
<text x="71.6" y="279.2" font-family="'Liberation Serif', serif" font-size="1.6" font-weight="normal" text-anchor="middle" fill="#666" stroke="#666" stroke-width="0.048">0</text>
<line x1="85.19999999999999" y1="276.4" x2="85.19999999999999" y2="277.4" stroke="#666" stroke-width="0.3"/>
<text x="85.19999999999999" y="279.2" font-family="'Liberation Serif', serif" font-size="1.6" font-weight="normal" text-anchor="middle" fill="#666" stroke="#666" stroke-width="0.048">50</text>
<line x1="98.8" y1="276.4" x2="98.8" y2="277.4" stroke="#666" stroke-width="0.3"/>
<text x="98.8" y="279.2" font-family="'Liberation Serif', serif" font-size="1.6" font-weight="normal" text-anchor="middle" fill="#666" stroke="#666" stroke-width="0.048">100</text>
<line x1="112.39999999999999" y1="276.4" x2="112.39999999999999" y2="277.4" stroke="#666" stroke-width="0.3"/>
<text x="112.39999999999999" y="279.2" font-family="'Liberation Serif', serif" font-size="1.6" font-weight="normal" text-anchor="middle" fill="#666" stroke="#666" stroke-width="0.048">150</text>
<text x="93.8" y="281.0" font-family="'Liberation Serif', serif" font-size="1.6" font-weight="normal" text-anchor="middle" fill="#666" stroke="#666" stroke-width="0.048">Channels</text>
<text x="67.1" y="255.5" font-family="'Liberation Serif', serif" font-size="1.6" font-weight="normal" text-anchor="middle" fill="#666" stroke="#666" stroke-width="0.048" transform="rotate(-90 67.1 255.5)">Number</text>
<path d="M77,276.4 C77.33,276.08 78.35,276.48 79,274.5 C79.65,272.52 80.27,267.87 80.9,264.5 C81.53,261.13 82.25,257.05 82.8,254.3 C83.35,251.55 83.82,249.28 84.2,248 C84.58,246.72 84.80,246.68 85.1,246.6 C85.40,246.52 85.65,246.43 86,247.5 C86.35,248.57 86.88,251.23 87.2,253 C87.52,254.77 87.63,256.10 87.9,258.1 C88.17,260.10 88.48,262.92 88.8,265 C89.12,267.08 89.35,269.68 89.8,270.6 C90.25,271.52 90.65,270.58 91.5,270.5 C92.35,270.42 93.90,270.02 94.9,270.1 C95.90,270.18 96.53,270.45 97.5,271 C98.47,271.55 99.62,272.68 100.7,273.4 C101.78,274.12 102.72,274.80 104,275.3 C105.28,275.80 107.67,276.22 108.4,276.4 Z" fill="#f00202" stroke="#a00808" stroke-width="0.35"/>
<path d="M86.5,276.4 C87.08,276.17 88.92,275.48 90,275 C91.08,274.52 92.00,273.80 93,273.5 C94.00,273.20 95.00,273.12 96,273.2 C97.00,273.28 98.00,273.65 99,274 C100.00,274.35 100.83,274.90 102,275.3 C103.17,275.70 105.33,276.22 106,276.4 Z" fill="#c20c10"/>
<path d="M86.5,246.5 C86.72,247.50 87.45,250.58 87.8,252.5 C88.15,254.42 88.33,256.00 88.6,258 C88.87,260.00 89.10,262.70 89.4,264.5 C89.70,266.30 89.97,268.00 90.4,268.8 C90.83,269.60 91.23,269.25 92,269.3 C92.77,269.35 94.00,268.97 95,269.1 C96.00,269.23 97.00,269.55 98,270.1 C99.00,270.65 100.00,271.67 101,272.4 C102.00,273.13 102.83,273.92 104,274.5 C105.17,275.08 106.83,275.58 108,275.9 C109.17,276.22 110.50,276.32 111,276.4 " fill="none" stroke="#808080" stroke-width="0.5" stroke-dasharray="0.9,0.4"/>
<path d="M85.15,247 L85.5,236.4 L85.85,247" fill="none" stroke="#808080" stroke-width="0.35"/>
<line x1="136.6" y1="234.6" x2="136.6" y2="276.4" stroke="#666" stroke-width="0.35"/>
<line x1="136.6" y1="276.4" x2="185.0" y2="276.4" stroke="#666" stroke-width="0.35"/>
<line x1="135.7" y1="276.4" x2="136.6" y2="276.4" stroke="#666" stroke-width="0.3"/>
<line x1="136.1" y1="272.21999999999997" x2="136.6" y2="272.21999999999997" stroke="#666" stroke-width="0.3"/>
<line x1="135.7" y1="268.03999999999996" x2="136.6" y2="268.03999999999996" stroke="#666" stroke-width="0.3"/>
<line x1="136.1" y1="263.85999999999996" x2="136.6" y2="263.85999999999996" stroke="#666" stroke-width="0.3"/>
<line x1="135.7" y1="259.68" x2="136.6" y2="259.68" stroke="#666" stroke-width="0.3"/>
<line x1="136.1" y1="255.5" x2="136.6" y2="255.5" stroke="#666" stroke-width="0.3"/>
<line x1="135.7" y1="251.32" x2="136.6" y2="251.32" stroke="#666" stroke-width="0.3"/>
<line x1="136.1" y1="247.14" x2="136.6" y2="247.14" stroke="#666" stroke-width="0.3"/>
<line x1="135.7" y1="242.95999999999998" x2="136.6" y2="242.95999999999998" stroke="#666" stroke-width="0.3"/>
<line x1="136.1" y1="238.78" x2="136.6" y2="238.78" stroke="#666" stroke-width="0.3"/>
<line x1="135.7" y1="234.6" x2="136.6" y2="234.6" stroke="#666" stroke-width="0.3"/>
<text x="134.29999999999998" y="277.0" font-family="'Liberation Serif', serif" font-size="1.7" font-weight="normal" text-anchor="end" fill="#666" stroke="#666" stroke-width="0.051">0</text>
<text x="134.29999999999998" y="268.64" font-family="'Liberation Serif', serif" font-size="1.7" font-weight="normal" text-anchor="end" fill="#666" stroke="#666" stroke-width="0.051">20</text>
<text x="134.29999999999998" y="260.28000000000003" font-family="'Liberation Serif', serif" font-size="1.7" font-weight="normal" text-anchor="end" fill="#666" stroke="#666" stroke-width="0.051">40</text>
<text x="134.29999999999998" y="251.92" font-family="'Liberation Serif', serif" font-size="1.7" font-weight="normal" text-anchor="end" fill="#666" stroke="#666" stroke-width="0.051">60</text>
<text x="134.29999999999998" y="243.55999999999997" font-family="'Liberation Serif', serif" font-size="1.7" font-weight="normal" text-anchor="end" fill="#666" stroke="#666" stroke-width="0.051">80</text>
<text x="134.29999999999998" y="235.2" font-family="'Liberation Serif', serif" font-size="1.7" font-weight="normal" text-anchor="end" fill="#666" stroke="#666" stroke-width="0.051">100</text>
<line x1="136.6" y1="276.4" x2="136.6" y2="277.4" stroke="#666" stroke-width="0.3"/>
<text x="136.6" y="279.2" font-family="'Liberation Serif', serif" font-size="1.6" font-weight="normal" text-anchor="middle" fill="#666" stroke="#666" stroke-width="0.048">0</text>
<line x1="150.2" y1="276.4" x2="150.2" y2="277.4" stroke="#666" stroke-width="0.3"/>
<text x="150.2" y="279.2" font-family="'Liberation Serif', serif" font-size="1.6" font-weight="normal" text-anchor="middle" fill="#666" stroke="#666" stroke-width="0.048">50</text>
<line x1="163.79999999999998" y1="276.4" x2="163.79999999999998" y2="277.4" stroke="#666" stroke-width="0.3"/>
<text x="163.79999999999998" y="279.2" font-family="'Liberation Serif', serif" font-size="1.6" font-weight="normal" text-anchor="middle" fill="#666" stroke="#666" stroke-width="0.048">100</text>
<line x1="177.39999999999998" y1="276.4" x2="177.39999999999998" y2="277.4" stroke="#666" stroke-width="0.3"/>
<text x="177.39999999999998" y="279.2" font-family="'Liberation Serif', serif" font-size="1.6" font-weight="normal" text-anchor="middle" fill="#666" stroke="#666" stroke-width="0.048">150</text>
<text x="158.8" y="281.0" font-family="'Liberation Serif', serif" font-size="1.6" font-weight="normal" text-anchor="middle" fill="#666" stroke="#666" stroke-width="0.048">Channels</text>
<text x="132.1" y="255.5" font-family="'Liberation Serif', serif" font-size="1.6" font-weight="normal" text-anchor="middle" fill="#666" stroke="#666" stroke-width="0.048" transform="rotate(-90 132.1 255.5)">Number</text>
<path d="M153,276.4 C154,273.5 156,272.3 159,272.2 C162,272.1 164.5,272.6 166.5,274.5 L167.5,276.4 Z" fill="#c9c6de" opacity="0.9"/>
<path d="M147.3,276.4 C147.45,275.92 147.93,275.07 148.2,273.5 C148.47,271.93 148.68,269.58 148.9,267 C149.12,264.42 149.32,260.58 149.5,258 C149.68,255.42 149.83,252.93 150.0,251.5 C150.17,250.07 150.33,249.57 150.5,249.4 C150.67,249.23 150.82,249.40 151.0,250.5 C151.18,251.60 151.40,253.58 151.6,256 C151.80,258.42 152.00,262.25 152.2,265 C152.40,267.75 152.58,270.73 152.8,272.5 C153.02,274.27 153.13,275.05 153.5,275.6 C153.87,276.15 154.33,275.87 155,275.8 C155.67,275.73 156.67,275.40 157.5,275.2 C158.33,275.00 159.12,274.75 160,274.6 C160.88,274.45 161.97,274.27 162.8,274.3 C163.63,274.33 164.37,274.45 165,274.8 C165.63,275.15 166.33,276.13 166.6,276.4 Z" fill="#f00202" stroke="#a00808" stroke-width="0.35"/>
<path d="M158,276.4 C158.42,276.27 159.67,275.78 160.5,275.6 C161.33,275.42 162.17,275.25 163,275.3 C163.83,275.35 164.93,275.72 165.5,275.9 C166.07,276.08 166.25,276.32 166.4,276.4 Z" fill="#c20c10"/>
<path d="M144.2,276.4 C144.53,276.30 145.63,276.23 146.2,275.8 C146.77,275.37 147.13,274.35 147.6,273.8 C148.07,273.25 148.27,272.73 149,272.5 C149.73,272.27 151.00,272.45 152,272.4 C153.00,272.35 154.00,272.28 155,272.2 C156.00,272.12 157.00,271.97 158,271.9 C159.00,271.83 160.00,271.75 161,271.8 C162.00,271.85 163.08,271.90 164,272.2 C164.92,272.50 165.75,273.07 166.5,273.6 C167.25,274.13 167.83,274.93 168.5,275.4 C169.17,275.87 170.17,276.23 170.5,276.4 " fill="none" stroke="#808080" stroke-width="0.5" stroke-dasharray="0.9,0.4"/>
<path d="M150.25,249.5 L150.6,239.0 L150.95,249.5" fill="none" stroke="#808080" stroke-width="0.35"/>
<text x="32.3" y="291.8" font-family="'Liberation Serif', serif" font-size="7.2" font-weight="normal" text-anchor="middle" fill="#000" stroke="#000" stroke-width="0.288" textLength="19.5" lengthAdjust="spacingAndGlyphs">control</text>
<text x="93.6" y="291.8" font-family="'Liberation Serif', serif" font-size="7.2" font-weight="normal" text-anchor="middle" fill="#000" stroke="#000" stroke-width="0.288" textLength="18.5" lengthAdjust="spacingAndGlyphs">sh-NC</text>
<text x="156.7" y="291.8" font-family="'Liberation Serif', serif" font-size="7.2" font-weight="normal" text-anchor="middle" fill="#000" stroke="#000" stroke-width="0.288" textLength="31.5" lengthAdjust="spacingAndGlyphs">sh-LAMP3</text>
<rect x="43.0" y="329.28625" width="6.6" height="44.013750000000016" fill="#8e5c9f" stroke="#555" stroke-width="0.25"/>
<line x1="46.3" y1="328.55875000000003" x2="46.3" y2="329.28625" stroke="#777" stroke-width="0.5"/>
<line x1="44.5" y1="328.55875000000003" x2="48.099999999999994" y2="328.55875000000003" stroke="#777" stroke-width="0.55"/>
<rect x="52.2" y="363.47875" width="6.4" height="9.82125000000002" fill="#629ca9" stroke="#555" stroke-width="0.25"/>
<line x1="55.400000000000006" y1="362.75125" x2="55.400000000000006" y2="363.47875" stroke="#777" stroke-width="0.5"/>
<line x1="53.60000000000001" y1="362.75125" x2="57.2" y2="362.75125" stroke="#777" stroke-width="0.55"/>
<rect x="61.2" y="354.74875000000003" width="6.0" height="18.551249999999982" fill="#efb762" stroke="#555" stroke-width="0.25"/>
<line x1="64.2" y1="353.6575" x2="64.2" y2="354.74875000000003" stroke="#777" stroke-width="0.5"/>
<line x1="62.400000000000006" y1="353.6575" x2="66.0" y2="353.6575" stroke="#777" stroke-width="0.55"/>
<rect x="75.9" y="325.79425000000003" width="6.0" height="47.50574999999998" fill="#8e5c9f" stroke="#555" stroke-width="0.25"/>
<line x1="78.9" y1="324.92125" x2="78.9" y2="325.79425000000003" stroke="#777" stroke-width="0.5"/>
<line x1="77.10000000000001" y1="324.92125" x2="80.7" y2="324.92125" stroke="#777" stroke-width="0.55"/>
<rect x="84.8" y="361.8055" width="6.0" height="11.494500000000016" fill="#629ca9" stroke="#555" stroke-width="0.25"/>
<line x1="87.8" y1="360.9325" x2="87.8" y2="361.8055" stroke="#777" stroke-width="0.5"/>
<line x1="86.0" y1="360.9325" x2="89.6" y2="360.9325" stroke="#777" stroke-width="0.55"/>
<rect x="93.7" y="353.512" width="6.0" height="19.78800000000001" fill="#efb762" stroke="#555" stroke-width="0.25"/>
<line x1="96.7" y1="352.56625" x2="96.7" y2="353.512" stroke="#777" stroke-width="0.5"/>
<line x1="94.9" y1="352.56625" x2="98.5" y2="352.56625" stroke="#777" stroke-width="0.55"/>
<rect x="108.1" y="320.70175" width="6.5" height="52.59825000000001" fill="#8e5c9f" stroke="#555" stroke-width="0.25"/>
<line x1="111.35" y1="319.82875" x2="111.35" y2="320.70175" stroke="#777" stroke-width="0.5"/>
<line x1="109.55" y1="319.82875" x2="113.14999999999999" y2="319.82875" stroke="#777" stroke-width="0.55"/>
<rect x="117.0" y="364.06075" width="6.1" height="9.239250000000027" fill="#629ca9" stroke="#555" stroke-width="0.25"/>
<line x1="120.05" y1="363.33325" x2="120.05" y2="364.06075" stroke="#777" stroke-width="0.5"/>
<line x1="118.25" y1="363.33325" x2="121.85" y2="363.33325" stroke="#777" stroke-width="0.55"/>
<rect x="126.3" y="361.5145" width="5.9" height="11.785500000000013" fill="#efb762" stroke="#555" stroke-width="0.25"/>
<line x1="129.25" y1="359.84125" x2="129.25" y2="361.5145" stroke="#777" stroke-width="0.5"/>
<line x1="127.45" y1="359.84125" x2="131.05" y2="359.84125" stroke="#777" stroke-width="0.55"/>
<line x1="55.2" y1="373.3" x2="55.2" y2="375.90000000000003" stroke="#333" stroke-width="0.6"/>
<line x1="87.8" y1="373.3" x2="87.8" y2="375.90000000000003" stroke="#333" stroke-width="0.6"/>
<line x1="120.1" y1="373.3" x2="120.1" y2="375.90000000000003" stroke="#333" stroke-width="0.6"/>
<line x1="40.3" y1="314.70000000000005" x2="40.3" y2="373.3" stroke="#111" stroke-width="1.0"/>
<line x1="37.3" y1="373.3" x2="135.5" y2="373.3" stroke="#111" stroke-width="1.0"/>
<text x="36.3" y="374.524" font-family="'Liberation Serif', serif" font-size="3.4" font-weight="bold" text-anchor="end" fill="#000" stroke="#000" stroke-width="0.17">0</text>
<line x1="37.3" y1="358.75" x2="40.3" y2="358.75" stroke="#111" stroke-width="0.9"/>
<text x="36.3" y="359.974" font-family="'Liberation Serif', serif" font-size="3.4" font-weight="bold" text-anchor="end" fill="#000" stroke="#000" stroke-width="0.17">20</text>
<line x1="37.3" y1="344.2" x2="40.3" y2="344.2" stroke="#111" stroke-width="0.9"/>
<text x="36.3" y="345.424" font-family="'Liberation Serif', serif" font-size="3.4" font-weight="bold" text-anchor="end" fill="#000" stroke="#000" stroke-width="0.17">40</text>
<line x1="37.3" y1="329.65" x2="40.3" y2="329.65" stroke="#111" stroke-width="0.9"/>
<text x="36.3" y="330.87399999999997" font-family="'Liberation Serif', serif" font-size="3.4" font-weight="bold" text-anchor="end" fill="#000" stroke="#000" stroke-width="0.17">60</text>
<line x1="37.3" y1="315.1" x2="40.3" y2="315.1" stroke="#111" stroke-width="0.9"/>
<text x="36.3" y="316.324" font-family="'Liberation Serif', serif" font-size="3.4" font-weight="bold" text-anchor="end" fill="#000" stroke="#000" stroke-width="0.17">80</text>
<text x="30.8" y="344.20000000000005" font-family="'Liberation Serif', serif" font-size="3.3" font-weight="bold" text-anchor="middle" fill="#000" stroke="#000" stroke-width="0.099" transform="rotate(-90 30.8 344.20000000000005)" textLength="35" lengthAdjust="spacingAndGlyphs">Cell cycle distribution (%)</text>
<text x="73.5" y="313.6" font-family="'Liberation Serif', serif" font-size="4.3" font-weight="bold" text-anchor="middle" fill="#000" stroke="#000" stroke-width="0.129" textLength="13.2" lengthAdjust="spacingAndGlyphs">CAL-27</text>
<circle cx="46.3" cy="329.28625" r="0.95" fill="#111"/>
<rect x="54.50000000000001" y="362.57875" width="1.8" height="1.8" fill="#111"/>
<polygon points="63.1,355.54875000000004 65.3,355.54875000000004 64.2,353.64875" fill="#111"/>
<circle cx="78.9" cy="325.79425000000003" r="0.95" fill="#111"/>
<rect x="86.89999999999999" y="360.9055" width="1.8" height="1.8" fill="#111"/>
<polygon points="95.60000000000001,354.312 97.8,354.312 96.7,352.412" fill="#111"/>
<circle cx="111.35" cy="320.70175" r="0.95" fill="#111"/>
<rect x="119.14999999999999" y="363.16075" width="1.8" height="1.8" fill="#111"/>
<polygon points="128.15,362.3145 130.35,362.3145 129.25,360.4145" fill="#111"/>
<text x="111.3" y="318.0" font-family="'Liberation Serif', serif" font-size="3.5" font-weight="bold" text-anchor="middle" fill="#000" stroke="#000" stroke-width="0.105">*</text>
<text x="129.2" y="359.8" font-family="'Liberation Serif', serif" font-size="3.5" font-weight="bold" text-anchor="middle" fill="#000" stroke="#000" stroke-width="0.105">**</text>
<text x="56.400000000000006" y="379.6" font-family="'Liberation Serif', serif" font-size="3.3" font-weight="bold" text-anchor="end" fill="#000" stroke="#000" stroke-width="0.099" transform="rotate(-45 56.400000000000006 379.6)">control</text>
<text x="88.7" y="379.6" font-family="'Liberation Serif', serif" font-size="3.3" font-weight="bold" text-anchor="end" fill="#000" stroke="#000" stroke-width="0.099" transform="rotate(-45 88.7 379.6)">sh-NC</text>
<text x="121.4" y="379.6" font-family="'Liberation Serif', serif" font-size="3.3" font-weight="bold" text-anchor="end" fill="#000" stroke="#000" stroke-width="0.099" transform="rotate(-45 121.4 379.6)">sh-LAMP3</text>
<circle cx="127.4" cy="302.4" r="0.9" fill="#111"/>
<text x="134.0" y="303.59999999999997" font-family="'Liberation Serif', serif" font-size="3.6" font-weight="normal" text-anchor="start" fill="#222" stroke="#222" stroke-width="0.108">G1</text>
<rect x="126.5" y="309.55" width="1.8" height="1.8" fill="#111"/>
<text x="134.0" y="311.65" font-family="'Liberation Serif', serif" font-size="3.6" font-weight="normal" text-anchor="start" fill="#222" stroke="#222" stroke-width="0.108">G2</text>
<polygon points="126.4,319.3 128.4,319.3 127.4,317.5" fill="#111"/>
<text x="134.0" y="319.7" font-family="'Liberation Serif', serif" font-size="3.6" font-weight="normal" text-anchor="start" fill="#222" stroke="#222" stroke-width="0.108">S</text>
<text transform="translate(194.1 213.25) scale(0.9 1)" x="0" y="0" font-family="'Liberation Sans', sans-serif" font-size="8.9" font-weight="bold" fill="#000" stroke="#000" stroke-width="0.3">F</text>
<text x="259.7" y="211.8" font-family="'Liberation Serif', serif" font-size="7.0" font-weight="normal" text-anchor="middle" fill="#2fa05c" stroke="#2fa05c" stroke-width="0.28" textLength="18.6" lengthAdjust="spacingAndGlyphs">53BP1</text>
<text x="329.0" y="211.4" font-family="'Liberation Serif', serif" font-size="7.0" font-weight="normal" text-anchor="middle" fill="#3558c0" stroke="#3558c0" stroke-width="0.28" textLength="16.5" lengthAdjust="spacingAndGlyphs">DAPI</text>
<rect x="222.4" y="216.2" width="72.49999999999997" height="51.30000000000001" fill="#020402"/>
<g filter="url(#bl3)"><circle cx="233.7" cy="239.6" r="0.79" fill="#1f6f28" opacity="0.28"/><circle cx="275.0" cy="238.6" r="0.80" fill="#1f6f28" opacity="0.23"/><circle cx="229.1" cy="239.7" r="0.42" fill="#1f6f28" opacity="0.33"/><circle cx="290.2" cy="233.7" r="0.55" fill="#1f6f28" opacity="0.29"/><circle cx="237.8" cy="226.0" r="0.49" fill="#1f6f28" opacity="0.19"/><circle cx="267.6" cy="264.7" r="0.51" fill="#1f6f28" opacity="0.34"/><circle cx="262.6" cy="261.6" r="0.81" fill="#1f6f28" opacity="0.14"/><circle cx="269.1" cy="223.3" r="0.40" fill="#1f6f28" opacity="0.20"/><circle cx="277.9" cy="245.1" r="0.50" fill="#1f6f28" opacity="0.31"/><circle cx="287.8" cy="228.9" r="0.62" fill="#1f6f28" opacity="0.26"/><circle cx="287.0" cy="223.4" r="0.68" fill="#1f6f28" opacity="0.34"/><circle cx="266.3" cy="252.6" r="0.79" fill="#1f6f28" opacity="0.23"/><circle cx="243.8" cy="246.3" r="0.66" fill="#1f6f28" opacity="0.19"/><circle cx="283.6" cy="235.1" r="0.64" fill="#1f6f28" opacity="0.29"/><circle cx="280.8" cy="261.1" r="0.73" fill="#1f6f28" opacity="0.16"/><circle cx="283.1" cy="262.0" r="0.76" fill="#1f6f28" opacity="0.29"/><circle cx="259.6" cy="241.5" r="0.69" fill="#1f6f28" opacity="0.14"/><circle cx="271.1" cy="259.7" r="0.48" fill="#1f6f28" opacity="0.29"/><circle cx="273.2" cy="223.2" r="0.43" fill="#1f6f28" opacity="0.25"/><circle cx="238.8" cy="232.5" r="0.71" fill="#1f6f28" opacity="0.26"/><circle cx="276.2" cy="245.2" r="0.57" fill="#1f6f28" opacity="0.10"/><circle cx="231.4" cy="226.7" r="0.66" fill="#1f6f28" opacity="0.28"/><circle cx="238.1" cy="236.4" r="0.87" fill="#1f6f28" opacity="0.20"/><circle cx="273.7" cy="247.7" r="0.73" fill="#1f6f28" opacity="0.22"/><circle cx="261.8" cy="251.8" r="0.48" fill="#1f6f28" opacity="0.30"/><circle cx="284.9" cy="219.5" r="0.50" fill="#1f6f28" opacity="0.16"/><circle cx="230.1" cy="224.1" r="0.72" fill="#1f6f28" opacity="0.13"/><circle cx="228.1" cy="263.8" r="0.60" fill="#1f6f28" opacity="0.24"/><circle cx="256.8" cy="234.1" r="0.63" fill="#1f6f28" opacity="0.15"/><circle cx="264.3" cy="229.6" r="0.47" fill="#1f6f28" opacity="0.15"/><circle cx="252.5" cy="263.1" r="0.70" fill="#1f6f28" opacity="0.35"/><circle cx="251.7" cy="230.0" r="0.76" fill="#1f6f28" opacity="0.15"/><circle cx="293.8" cy="236.5" r="0.54" fill="#1f6f28" opacity="0.17"/><circle cx="244.9" cy="263.4" r="0.90" fill="#1f6f28" opacity="0.24"/><circle cx="239.8" cy="217.7" r="0.44" fill="#1f6f28" opacity="0.17"/><circle cx="268.7" cy="248.1" r="0.83" fill="#1f6f28" opacity="0.31"/><circle cx="248.3" cy="250.4" r="0.62" fill="#1f6f28" opacity="0.28"/><circle cx="236.4" cy="265.3" r="0.41" fill="#1f6f28" opacity="0.25"/><circle cx="248.2" cy="256.7" r="0.47" fill="#1f6f28" opacity="0.32"/><circle cx="223.6" cy="253.4" r="0.75" fill="#1f6f28" opacity="0.23"/><circle cx="235.7" cy="236.0" r="0.62" fill="#1f6f28" opacity="0.15"/><circle cx="234.7" cy="258.7" r="0.67" fill="#1f6f28" opacity="0.17"/><circle cx="267.5" cy="248.4" r="0.47" fill="#1f6f28" opacity="0.25"/><circle cx="264.6" cy="222.7" r="0.55" fill="#1f6f28" opacity="0.32"/><circle cx="264.2" cy="228.2" r="0.60" fill="#1f6f28" opacity="0.21"/></g>
<rect x="296.3" y="216.2" width="72.69999999999999" height="51.30000000000001" fill="#020205"/>
<g filter="url(#bl3)"><circle cx="300.5" cy="227.2" r="0.88" fill="#2a2ab8" opacity="0.14"/><circle cx="358.1" cy="230.3" r="0.60" fill="#2a2ab8" opacity="0.23"/><circle cx="309.1" cy="218.0" r="0.71" fill="#2a2ab8" opacity="0.24"/><circle cx="310.9" cy="259.2" r="0.72" fill="#2a2ab8" opacity="0.31"/><circle cx="322.1" cy="222.2" r="0.77" fill="#2a2ab8" opacity="0.31"/><circle cx="331.7" cy="248.9" r="0.65" fill="#2a2ab8" opacity="0.14"/><circle cx="306.5" cy="241.4" r="0.94" fill="#2a2ab8" opacity="0.21"/><circle cx="355.3" cy="222.7" r="0.69" fill="#2a2ab8" opacity="0.30"/><circle cx="352.8" cy="256.3" r="0.66" fill="#2a2ab8" opacity="0.26"/><circle cx="314.1" cy="254.1" r="0.83" fill="#2a2ab8" opacity="0.31"/><circle cx="352.7" cy="265.8" r="0.79" fill="#2a2ab8" opacity="0.40"/><circle cx="317.8" cy="260.7" r="0.64" fill="#2a2ab8" opacity="0.31"/><circle cx="360.7" cy="244.6" r="0.74" fill="#2a2ab8" opacity="0.35"/><circle cx="354.9" cy="252.4" r="0.74" fill="#2a2ab8" opacity="0.25"/><circle cx="297.4" cy="243.3" r="0.72" fill="#2a2ab8" opacity="0.30"/><circle cx="298.7" cy="239.3" r="0.65" fill="#2a2ab8" opacity="0.20"/><circle cx="366.5" cy="254.6" r="0.86" fill="#2a2ab8" opacity="0.21"/><circle cx="304.3" cy="218.7" r="0.82" fill="#2a2ab8" opacity="0.40"/><circle cx="349.3" cy="227.7" r="0.99" fill="#2a2ab8" opacity="0.17"/><circle cx="300.6" cy="242.3" r="0.78" fill="#2a2ab8" opacity="0.12"/><circle cx="362.3" cy="231.6" r="0.76" fill="#2a2ab8" opacity="0.11"/><circle cx="298.3" cy="264.0" r="0.99" fill="#2a2ab8" opacity="0.29"/><circle cx="300.8" cy="224.3" r="0.65" fill="#2a2ab8" opacity="0.10"/><circle cx="353.6" cy="239.6" r="0.61" fill="#2a2ab8" opacity="0.18"/><circle cx="329.8" cy="242.8" r="0.81" fill="#2a2ab8" opacity="0.14"/><circle cx="353.8" cy="222.0" r="0.78" fill="#2a2ab8" opacity="0.32"/><circle cx="304.9" cy="218.2" r="1.00" fill="#2a2ab8" opacity="0.31"/><circle cx="310.9" cy="249.7" r="0.64" fill="#2a2ab8" opacity="0.35"/><circle cx="300.1" cy="222.6" r="0.69" fill="#2a2ab8" opacity="0.29"/><circle cx="358.8" cy="229.2" r="0.91" fill="#2a2ab8" opacity="0.22"/><circle cx="329.7" cy="250.6" r="0.70" fill="#2a2ab8" opacity="0.31"/><circle cx="321.6" cy="225.0" r="0.86" fill="#2a2ab8" opacity="0.25"/><circle cx="300.2" cy="263.8" r="0.91" fill="#2a2ab8" opacity="0.23"/><circle cx="353.4" cy="255.0" r="0.61" fill="#2a2ab8" opacity="0.12"/><circle cx="332.0" cy="238.1" r="0.87" fill="#2a2ab8" opacity="0.15"/><circle cx="307.1" cy="235.9" r="1.00" fill="#2a2ab8" opacity="0.11"/><circle cx="364.7" cy="246.4" r="0.74" fill="#2a2ab8" opacity="0.13"/><circle cx="328.4" cy="238.6" r="0.62" fill="#2a2ab8" opacity="0.22"/><circle cx="362.7" cy="264.3" r="0.88" fill="#2a2ab8" opacity="0.22"/><circle cx="358.4" cy="219.2" r="0.89" fill="#2a2ab8" opacity="0.31"/><circle cx="307.8" cy="235.2" r="0.77" fill="#2a2ab8" opacity="0.34"/><circle cx="339.1" cy="229.0" r="0.93" fill="#2a2ab8" opacity="0.25"/><circle cx="352.5" cy="234.8" r="0.74" fill="#2a2ab8" opacity="0.20"/><circle cx="308.8" cy="255.0" r="0.86" fill="#2a2ab8" opacity="0.22"/><circle cx="340.0" cy="251.1" r="0.98" fill="#2a2ab8" opacity="0.14"/><circle cx="304.1" cy="260.9" r="0.98" fill="#2a2ab8" opacity="0.32"/><circle cx="335.4" cy="264.4" r="0.95" fill="#2a2ab8" opacity="0.13"/><circle cx="346.3" cy="257.0" r="0.71" fill="#2a2ab8" opacity="0.34"/><circle cx="361.7" cy="241.7" r="0.77" fill="#2a2ab8" opacity="0.28"/><circle cx="354.4" cy="249.2" r="1.00" fill="#2a2ab8" opacity="0.25"/><circle cx="320.2" cy="224.5" r="0.89" fill="#2a2ab8" opacity="0.27"/><circle cx="340.1" cy="266.2" r="0.94" fill="#2a2ab8" opacity="0.33"/><circle cx="341.4" cy="230.4" r="0.80" fill="#2a2ab8" opacity="0.20"/><circle cx="331.1" cy="265.9" r="0.83" fill="#2a2ab8" opacity="0.34"/><circle cx="340.1" cy="238.7" r="0.95" fill="#2a2ab8" opacity="0.29"/></g>
<rect x="222.4" y="268.8" width="72.49999999999997" height="51.69999999999999" fill="#020402"/>
<g filter="url(#bl3)"><circle cx="264.4" cy="279.5" r="0.88" fill="#1f6f28" opacity="0.28"/><circle cx="256.3" cy="302.8" r="0.51" fill="#1f6f28" opacity="0.14"/><circle cx="243.7" cy="304.2" r="0.51" fill="#1f6f28" opacity="0.29"/><circle cx="228.4" cy="279.4" r="0.44" fill="#1f6f28" opacity="0.25"/><circle cx="249.2" cy="293.2" r="0.56" fill="#1f6f28" opacity="0.23"/><circle cx="251.9" cy="280.2" r="0.62" fill="#1f6f28" opacity="0.16"/><circle cx="231.2" cy="310.7" r="0.74" fill="#1f6f28" opacity="0.23"/><circle cx="285.6" cy="289.4" r="0.59" fill="#1f6f28" opacity="0.18"/><circle cx="251.9" cy="303.0" r="0.40" fill="#1f6f28" opacity="0.19"/><circle cx="261.1" cy="287.0" r="0.41" fill="#1f6f28" opacity="0.24"/><circle cx="224.1" cy="297.9" r="0.48" fill="#1f6f28" opacity="0.11"/><circle cx="236.1" cy="273.1" r="0.48" fill="#1f6f28" opacity="0.24"/><circle cx="274.7" cy="287.8" r="0.73" fill="#1f6f28" opacity="0.20"/><circle cx="258.5" cy="313.3" r="0.56" fill="#1f6f28" opacity="0.27"/><circle cx="272.1" cy="303.8" r="0.40" fill="#1f6f28" opacity="0.12"/><circle cx="225.7" cy="287.0" r="0.87" fill="#1f6f28" opacity="0.28"/><circle cx="282.5" cy="275.7" r="0.75" fill="#1f6f28" opacity="0.25"/><circle cx="280.5" cy="309.2" r="0.47" fill="#1f6f28" opacity="0.14"/><circle cx="279.3" cy="306.5" r="0.85" fill="#1f6f28" opacity="0.19"/><circle cx="286.1" cy="276.7" r="0.88" fill="#1f6f28" opacity="0.28"/><circle cx="247.2" cy="273.2" r="0.67" fill="#1f6f28" opacity="0.24"/><circle cx="248.1" cy="272.7" r="0.54" fill="#1f6f28" opacity="0.26"/><circle cx="229.8" cy="316.4" r="0.53" fill="#1f6f28" opacity="0.14"/><circle cx="231.3" cy="318.6" r="0.85" fill="#1f6f28" opacity="0.16"/><circle cx="230.1" cy="302.3" r="0.84" fill="#1f6f28" opacity="0.10"/><circle cx="268.0" cy="312.4" r="0.63" fill="#1f6f28" opacity="0.21"/><circle cx="280.1" cy="281.7" r="0.54" fill="#1f6f28" opacity="0.23"/><circle cx="262.3" cy="296.4" r="0.57" fill="#1f6f28" opacity="0.29"/><circle cx="243.7" cy="303.5" r="0.85" fill="#1f6f28" opacity="0.18"/><circle cx="227.2" cy="280.8" r="0.43" fill="#1f6f28" opacity="0.13"/></g>
<rect x="296.3" y="268.8" width="72.69999999999999" height="51.69999999999999" fill="#020205"/>
<g filter="url(#bl3)"><circle cx="302.0" cy="286.0" r="0.60" fill="#2a2ab8" opacity="0.18"/><circle cx="350.5" cy="304.3" r="0.79" fill="#2a2ab8" opacity="0.31"/><circle cx="329.2" cy="312.8" r="0.84" fill="#2a2ab8" opacity="0.14"/><circle cx="337.4" cy="293.5" r="0.81" fill="#2a2ab8" opacity="0.16"/><circle cx="346.5" cy="279.2" r="0.72" fill="#2a2ab8" opacity="0.17"/><circle cx="316.2" cy="278.8" r="0.90" fill="#2a2ab8" opacity="0.29"/><circle cx="299.5" cy="298.4" r="0.63" fill="#2a2ab8" opacity="0.28"/><circle cx="326.1" cy="296.6" r="0.90" fill="#2a2ab8" opacity="0.32"/><circle cx="345.6" cy="284.4" r="0.64" fill="#2a2ab8" opacity="0.26"/><circle cx="335.1" cy="314.2" r="0.95" fill="#2a2ab8" opacity="0.15"/><circle cx="326.4" cy="305.1" r="0.77" fill="#2a2ab8" opacity="0.37"/><circle cx="298.2" cy="290.4" r="0.94" fill="#2a2ab8" opacity="0.37"/><circle cx="333.1" cy="282.3" r="0.84" fill="#2a2ab8" opacity="0.19"/><circle cx="346.5" cy="286.8" r="0.68" fill="#2a2ab8" opacity="0.26"/><circle cx="351.8" cy="294.1" r="0.84" fill="#2a2ab8" opacity="0.26"/><circle cx="334.4" cy="270.1" r="0.75" fill="#2a2ab8" opacity="0.34"/><circle cx="333.5" cy="308.7" r="0.98" fill="#2a2ab8" opacity="0.11"/><circle cx="348.8" cy="294.1" r="0.60" fill="#2a2ab8" opacity="0.16"/><circle cx="332.2" cy="292.7" r="0.95" fill="#2a2ab8" opacity="0.20"/><circle cx="353.0" cy="290.2" r="0.98" fill="#2a2ab8" opacity="0.37"/><circle cx="308.7" cy="310.4" r="0.65" fill="#2a2ab8" opacity="0.19"/><circle cx="359.9" cy="291.4" r="0.61" fill="#2a2ab8" opacity="0.10"/><circle cx="367.1" cy="312.5" r="0.99" fill="#2a2ab8" opacity="0.20"/><circle cx="318.9" cy="303.9" r="0.62" fill="#2a2ab8" opacity="0.27"/><circle cx="308.2" cy="279.1" r="0.90" fill="#2a2ab8" opacity="0.17"/><circle cx="367.2" cy="303.1" r="0.84" fill="#2a2ab8" opacity="0.28"/><circle cx="314.2" cy="317.4" r="0.62" fill="#2a2ab8" opacity="0.35"/><circle cx="335.0" cy="299.7" r="0.82" fill="#2a2ab8" opacity="0.21"/><circle cx="309.1" cy="287.3" r="0.86" fill="#2a2ab8" opacity="0.19"/><circle cx="353.6" cy="304.2" r="0.61" fill="#2a2ab8" opacity="0.13"/><circle cx="357.2" cy="296.4" r="0.65" fill="#2a2ab8" opacity="0.25"/><circle cx="336.1" cy="305.0" r="0.79" fill="#2a2ab8" opacity="0.36"/><circle cx="298.4" cy="313.9" r="0.88" fill="#2a2ab8" opacity="0.21"/><circle cx="304.5" cy="277.0" r="0.88" fill="#2a2ab8" opacity="0.29"/><circle cx="334.8" cy="273.9" r="0.64" fill="#2a2ab8" opacity="0.24"/><circle cx="304.9" cy="284.4" r="0.61" fill="#2a2ab8" opacity="0.16"/><circle cx="336.3" cy="309.8" r="0.61" fill="#2a2ab8" opacity="0.18"/><circle cx="320.7" cy="280.7" r="0.76" fill="#2a2ab8" opacity="0.10"/><circle cx="310.6" cy="283.0" r="0.94" fill="#2a2ab8" opacity="0.18"/><circle cx="346.1" cy="307.8" r="0.88" fill="#2a2ab8" opacity="0.22"/><circle cx="319.5" cy="295.9" r="0.74" fill="#2a2ab8" opacity="0.19"/><circle cx="323.7" cy="272.6" r="0.84" fill="#2a2ab8" opacity="0.21"/><circle cx="301.6" cy="286.6" r="0.63" fill="#2a2ab8" opacity="0.24"/><circle cx="336.2" cy="318.1" r="0.66" fill="#2a2ab8" opacity="0.26"/><circle cx="353.3" cy="281.9" r="0.78" fill="#2a2ab8" opacity="0.26"/><circle cx="305.2" cy="292.0" r="0.96" fill="#2a2ab8" opacity="0.36"/><circle cx="361.5" cy="270.5" r="0.87" fill="#2a2ab8" opacity="0.31"/><circle cx="319.5" cy="281.6" r="0.87" fill="#2a2ab8" opacity="0.20"/><circle cx="362.0" cy="285.6" r="0.95" fill="#2a2ab8" opacity="0.30"/><circle cx="324.5" cy="305.3" r="0.96" fill="#2a2ab8" opacity="0.30"/><circle cx="317.2" cy="275.6" r="0.84" fill="#2a2ab8" opacity="0.31"/><circle cx="340.5" cy="281.4" r="0.86" fill="#2a2ab8" opacity="0.30"/><circle cx="324.9" cy="304.3" r="0.87" fill="#2a2ab8" opacity="0.37"/><circle cx="298.6" cy="317.1" r="0.89" fill="#2a2ab8" opacity="0.14"/><circle cx="308.9" cy="288.3" r="0.85" fill="#2a2ab8" opacity="0.26"/><circle cx="326.8" cy="312.4" r="0.81" fill="#2a2ab8" opacity="0.27"/><circle cx="346.9" cy="311.5" r="0.66" fill="#2a2ab8" opacity="0.12"/><circle cx="330.6" cy="311.1" r="0.96" fill="#2a2ab8" opacity="0.25"/><circle cx="307.8" cy="301.6" r="0.94" fill="#2a2ab8" opacity="0.31"/><circle cx="309.7" cy="272.2" r="0.79" fill="#2a2ab8" opacity="0.17"/><circle cx="320.0" cy="307.0" r="0.91" fill="#2a2ab8" opacity="0.26"/><circle cx="362.1" cy="305.0" r="0.66" fill="#2a2ab8" opacity="0.21"/><circle cx="318.5" cy="318.8" r="0.77" fill="#2a2ab8" opacity="0.18"/><circle cx="357.6" cy="317.3" r="0.75" fill="#2a2ab8" opacity="0.18"/><circle cx="319.9" cy="272.0" r="0.86" fill="#2a2ab8" opacity="0.11"/><circle cx="367.6" cy="310.5" r="0.75" fill="#2a2ab8" opacity="0.26"/><circle cx="356.3" cy="275.6" r="0.87" fill="#2a2ab8" opacity="0.34"/><circle cx="333.7" cy="313.3" r="0.70" fill="#2a2ab8" opacity="0.10"/><circle cx="313.6" cy="319.3" r="0.74" fill="#2a2ab8" opacity="0.19"/><circle cx="302.2" cy="289.3" r="0.70" fill="#2a2ab8" opacity="0.24"/></g>
<rect x="222.4" y="321.8" width="72.49999999999997" height="51.19999999999999" fill="#020402"/>
<g filter="url(#bl3)"><circle cx="233.8" cy="353.1" r="0.48" fill="#1f6f28" opacity="0.39"/><circle cx="266.3" cy="341.7" r="0.71" fill="#1f6f28" opacity="0.33"/><circle cx="226.4" cy="348.9" r="0.71" fill="#1f6f28" opacity="0.31"/><circle cx="285.4" cy="359.0" r="0.59" fill="#1f6f28" opacity="0.19"/><circle cx="232.4" cy="362.7" r="0.74" fill="#1f6f28" opacity="0.34"/><circle cx="254.5" cy="347.5" r="0.51" fill="#1f6f28" opacity="0.31"/><circle cx="233.6" cy="353.4" r="0.72" fill="#1f6f28" opacity="0.37"/><circle cx="240.8" cy="327.3" r="0.57" fill="#1f6f28" opacity="0.38"/><circle cx="259.3" cy="359.6" r="0.62" fill="#1f6f28" opacity="0.26"/><circle cx="287.4" cy="331.0" r="0.50" fill="#1f6f28" opacity="0.34"/><circle cx="267.9" cy="344.1" r="0.68" fill="#1f6f28" opacity="0.28"/><circle cx="270.5" cy="366.5" r="0.81" fill="#1f6f28" opacity="0.36"/><circle cx="256.5" cy="369.4" r="0.62" fill="#1f6f28" opacity="0.35"/><circle cx="284.6" cy="356.4" r="0.60" fill="#1f6f28" opacity="0.40"/><circle cx="265.7" cy="367.8" r="0.71" fill="#1f6f28" opacity="0.31"/><circle cx="292.1" cy="348.8" r="0.60" fill="#1f6f28" opacity="0.48"/><circle cx="290.0" cy="331.3" r="0.44" fill="#1f6f28" opacity="0.44"/><circle cx="285.6" cy="341.7" r="0.53" fill="#1f6f28" opacity="0.37"/><circle cx="289.7" cy="333.3" r="0.62" fill="#1f6f28" opacity="0.37"/><circle cx="239.0" cy="343.2" r="0.47" fill="#1f6f28" opacity="0.29"/><circle cx="239.6" cy="326.8" r="0.59" fill="#1f6f28" opacity="0.16"/><circle cx="231.8" cy="330.2" r="0.61" fill="#1f6f28" opacity="0.23"/><circle cx="274.7" cy="343.2" r="0.52" fill="#1f6f28" opacity="0.18"/><circle cx="244.3" cy="359.4" r="0.50" fill="#1f6f28" opacity="0.29"/><circle cx="280.3" cy="363.6" r="0.63" fill="#1f6f28" opacity="0.44"/><circle cx="268.7" cy="334.0" r="0.45" fill="#1f6f28" opacity="0.17"/><circle cx="279.1" cy="342.0" r="0.82" fill="#1f6f28" opacity="0.49"/><circle cx="288.2" cy="345.9" r="0.40" fill="#1f6f28" opacity="0.21"/><circle cx="238.8" cy="354.7" r="0.75" fill="#1f6f28" opacity="0.47"/><circle cx="273.1" cy="370.0" r="0.72" fill="#1f6f28" opacity="0.29"/><circle cx="282.4" cy="336.3" r="0.79" fill="#1f6f28" opacity="0.39"/><circle cx="284.5" cy="325.8" r="0.49" fill="#1f6f28" opacity="0.48"/><circle cx="233.4" cy="345.0" r="0.70" fill="#1f6f28" opacity="0.29"/><circle cx="285.4" cy="369.8" r="0.57" fill="#1f6f28" opacity="0.15"/><circle cx="287.9" cy="345.1" r="0.52" fill="#1f6f28" opacity="0.16"/><circle cx="224.0" cy="351.5" r="0.54" fill="#1f6f28" opacity="0.32"/><circle cx="288.6" cy="346.6" r="0.88" fill="#1f6f28" opacity="0.13"/><circle cx="276.8" cy="359.9" r="0.88" fill="#1f6f28" opacity="0.11"/><circle cx="259.1" cy="350.2" r="0.70" fill="#1f6f28" opacity="0.29"/><circle cx="242.6" cy="367.2" r="0.84" fill="#1f6f28" opacity="0.38"/><circle cx="291.0" cy="350.0" r="0.44" fill="#1f6f28" opacity="0.38"/><circle cx="230.8" cy="359.7" r="0.72" fill="#1f6f28" opacity="0.18"/><circle cx="234.1" cy="326.1" r="0.49" fill="#1f6f28" opacity="0.49"/><circle cx="239.5" cy="366.3" r="0.47" fill="#1f6f28" opacity="0.24"/><circle cx="256.7" cy="340.4" r="0.88" fill="#1f6f28" opacity="0.20"/><circle cx="257.5" cy="332.9" r="0.45" fill="#1f6f28" opacity="0.38"/><circle cx="247.3" cy="346.8" r="0.75" fill="#1f6f28" opacity="0.14"/><circle cx="227.2" cy="356.6" r="0.90" fill="#1f6f28" opacity="0.11"/><circle cx="255.3" cy="371.7" r="0.82" fill="#1f6f28" opacity="0.50"/><circle cx="260.7" cy="370.6" r="0.43" fill="#1f6f28" opacity="0.29"/><circle cx="283.2" cy="342.0" r="0.62" fill="#1f6f28" opacity="0.28"/><circle cx="250.2" cy="362.8" r="0.89" fill="#1f6f28" opacity="0.19"/><circle cx="246.1" cy="362.3" r="0.77" fill="#1f6f28" opacity="0.43"/><circle cx="271.5" cy="367.8" r="0.82" fill="#1f6f28" opacity="0.35"/><circle cx="243.4" cy="327.0" r="0.83" fill="#1f6f28" opacity="0.44"/><circle cx="286.3" cy="335.8" r="0.77" fill="#1f6f28" opacity="0.47"/><circle cx="238.0" cy="324.0" r="0.49" fill="#1f6f28" opacity="0.19"/><circle cx="271.3" cy="363.2" r="0.81" fill="#1f6f28" opacity="0.38"/><circle cx="292.4" cy="370.6" r="0.62" fill="#1f6f28" opacity="0.47"/><circle cx="274.1" cy="334.9" r="0.69" fill="#1f6f28" opacity="0.17"/><circle cx="251.6" cy="362.8" r="0.40" fill="#1f6f28" opacity="0.31"/><circle cx="254.1" cy="336.7" r="0.43" fill="#1f6f28" opacity="0.31"/><circle cx="246.9" cy="327.6" r="0.60" fill="#1f6f28" opacity="0.37"/><circle cx="229.0" cy="361.4" r="0.44" fill="#1f6f28" opacity="0.29"/><circle cx="249.2" cy="365.0" r="0.85" fill="#1f6f28" opacity="0.39"/><circle cx="244.1" cy="338.8" r="0.81" fill="#1f6f28" opacity="0.30"/><circle cx="268.2" cy="358.4" r="0.50" fill="#1f6f28" opacity="0.25"/><circle cx="290.7" cy="339.1" r="0.82" fill="#1f6f28" opacity="0.16"/><circle cx="224.4" cy="347.5" r="0.54" fill="#1f6f28" opacity="0.34"/><circle cx="277.7" cy="324.7" r="0.65" fill="#1f6f28" opacity="0.25"/></g>
<rect x="296.3" y="321.8" width="72.69999999999999" height="51.19999999999999" fill="#020205"/>
<g filter="url(#bl3)"><circle cx="351.3" cy="354.5" r="0.76" fill="#2a2ab8" opacity="0.17"/><circle cx="345.1" cy="370.5" r="0.77" fill="#2a2ab8" opacity="0.40"/><circle cx="299.9" cy="348.8" r="0.68" fill="#2a2ab8" opacity="0.27"/><circle cx="340.5" cy="364.9" r="0.81" fill="#2a2ab8" opacity="0.40"/><circle cx="320.4" cy="329.1" r="0.79" fill="#2a2ab8" opacity="0.35"/><circle cx="347.4" cy="324.6" r="0.70" fill="#2a2ab8" opacity="0.19"/><circle cx="330.6" cy="365.2" r="0.71" fill="#2a2ab8" opacity="0.12"/><circle cx="360.8" cy="365.6" r="0.91" fill="#2a2ab8" opacity="0.11"/><circle cx="315.7" cy="331.5" r="0.97" fill="#2a2ab8" opacity="0.14"/><circle cx="306.3" cy="333.7" r="0.92" fill="#2a2ab8" opacity="0.17"/><circle cx="366.8" cy="338.0" r="0.86" fill="#2a2ab8" opacity="0.17"/><circle cx="317.9" cy="365.4" r="1.00" fill="#2a2ab8" opacity="0.18"/><circle cx="322.0" cy="325.6" r="0.68" fill="#2a2ab8" opacity="0.23"/><circle cx="334.1" cy="351.0" r="0.74" fill="#2a2ab8" opacity="0.16"/><circle cx="336.6" cy="340.0" r="0.74" fill="#2a2ab8" opacity="0.44"/><circle cx="338.8" cy="323.5" r="0.98" fill="#2a2ab8" opacity="0.44"/><circle cx="324.9" cy="371.0" r="0.64" fill="#2a2ab8" opacity="0.42"/><circle cx="309.2" cy="365.3" r="0.87" fill="#2a2ab8" opacity="0.44"/><circle cx="318.7" cy="355.0" r="0.98" fill="#2a2ab8" opacity="0.15"/><circle cx="310.4" cy="350.2" r="0.65" fill="#2a2ab8" opacity="0.12"/><circle cx="298.4" cy="339.9" r="0.86" fill="#2a2ab8" opacity="0.26"/><circle cx="340.0" cy="324.1" r="0.64" fill="#2a2ab8" opacity="0.30"/><circle cx="308.4" cy="323.4" r="0.62" fill="#2a2ab8" opacity="0.33"/><circle cx="365.2" cy="347.2" r="0.60" fill="#2a2ab8" opacity="0.17"/><circle cx="345.5" cy="361.8" r="0.68" fill="#2a2ab8" opacity="0.26"/><circle cx="299.9" cy="349.4" r="0.90" fill="#2a2ab8" opacity="0.27"/><circle cx="352.8" cy="334.3" r="0.87" fill="#2a2ab8" opacity="0.26"/><circle cx="340.0" cy="326.4" r="0.78" fill="#2a2ab8" opacity="0.32"/><circle cx="313.9" cy="350.1" r="0.61" fill="#2a2ab8" opacity="0.25"/><circle cx="363.8" cy="354.6" r="0.80" fill="#2a2ab8" opacity="0.40"/><circle cx="346.3" cy="347.8" r="0.75" fill="#2a2ab8" opacity="0.41"/><circle cx="337.2" cy="346.8" r="0.75" fill="#2a2ab8" opacity="0.15"/><circle cx="310.8" cy="352.4" r="0.81" fill="#2a2ab8" opacity="0.37"/><circle cx="329.1" cy="341.7" r="0.82" fill="#2a2ab8" opacity="0.19"/><circle cx="365.3" cy="354.1" r="0.72" fill="#2a2ab8" opacity="0.27"/><circle cx="356.7" cy="369.6" r="0.88" fill="#2a2ab8" opacity="0.41"/><circle cx="354.3" cy="340.9" r="0.77" fill="#2a2ab8" opacity="0.26"/><circle cx="301.0" cy="351.9" r="0.82" fill="#2a2ab8" opacity="0.38"/><circle cx="321.3" cy="370.9" r="0.90" fill="#2a2ab8" opacity="0.30"/><circle cx="313.4" cy="368.8" r="0.87" fill="#2a2ab8" opacity="0.32"/><circle cx="311.0" cy="332.6" r="0.68" fill="#2a2ab8" opacity="0.42"/><circle cx="328.6" cy="357.3" r="0.88" fill="#2a2ab8" opacity="0.38"/><circle cx="317.7" cy="332.7" r="0.99" fill="#2a2ab8" opacity="0.15"/><circle cx="368.0" cy="342.3" r="0.61" fill="#2a2ab8" opacity="0.21"/><circle cx="351.5" cy="342.7" r="0.66" fill="#2a2ab8" opacity="0.13"/><circle cx="300.8" cy="350.9" r="0.75" fill="#2a2ab8" opacity="0.34"/><circle cx="306.2" cy="336.8" r="0.82" fill="#2a2ab8" opacity="0.21"/><circle cx="346.4" cy="335.6" r="0.90" fill="#2a2ab8" opacity="0.33"/><circle cx="326.5" cy="357.5" r="0.74" fill="#2a2ab8" opacity="0.42"/><circle cx="349.7" cy="336.9" r="0.94" fill="#2a2ab8" opacity="0.32"/><circle cx="358.4" cy="357.7" r="0.97" fill="#2a2ab8" opacity="0.29"/><circle cx="321.7" cy="359.0" r="0.97" fill="#2a2ab8" opacity="0.28"/><circle cx="347.9" cy="352.6" r="0.73" fill="#2a2ab8" opacity="0.17"/><circle cx="341.3" cy="331.0" r="0.78" fill="#2a2ab8" opacity="0.37"/><circle cx="324.2" cy="344.1" r="0.99" fill="#2a2ab8" opacity="0.31"/><circle cx="335.5" cy="332.3" r="0.90" fill="#2a2ab8" opacity="0.23"/><circle cx="347.9" cy="369.7" r="0.93" fill="#2a2ab8" opacity="0.18"/><circle cx="363.0" cy="355.5" r="0.67" fill="#2a2ab8" opacity="0.12"/><circle cx="314.8" cy="351.6" r="0.79" fill="#2a2ab8" opacity="0.10"/><circle cx="364.4" cy="326.1" r="0.94" fill="#2a2ab8" opacity="0.27"/><circle cx="353.8" cy="362.6" r="0.88" fill="#2a2ab8" opacity="0.23"/><circle cx="334.0" cy="332.8" r="0.71" fill="#2a2ab8" opacity="0.11"/><circle cx="323.1" cy="367.2" r="0.89" fill="#2a2ab8" opacity="0.12"/><circle cx="321.5" cy="344.3" r="0.81" fill="#2a2ab8" opacity="0.28"/><circle cx="356.5" cy="332.4" r="0.86" fill="#2a2ab8" opacity="0.33"/><circle cx="298.5" cy="330.3" r="0.65" fill="#2a2ab8" opacity="0.32"/><circle cx="358.0" cy="366.2" r="0.94" fill="#2a2ab8" opacity="0.29"/><circle cx="341.1" cy="355.4" r="0.72" fill="#2a2ab8" opacity="0.27"/><circle cx="306.8" cy="339.1" r="0.75" fill="#2a2ab8" opacity="0.43"/><circle cx="312.1" cy="346.8" r="0.62" fill="#2a2ab8" opacity="0.12"/><circle cx="333.8" cy="351.9" r="0.81" fill="#2a2ab8" opacity="0.45"/><circle cx="330.9" cy="353.6" r="0.95" fill="#2a2ab8" opacity="0.14"/><circle cx="351.7" cy="329.3" r="0.95" fill="#2a2ab8" opacity="0.37"/><circle cx="352.5" cy="365.1" r="0.62" fill="#2a2ab8" opacity="0.13"/><circle cx="326.9" cy="326.0" r="0.96" fill="#2a2ab8" opacity="0.16"/><circle cx="313.7" cy="358.5" r="0.64" fill="#2a2ab8" opacity="0.40"/><circle cx="322.2" cy="349.2" r="0.93" fill="#2a2ab8" opacity="0.13"/><circle cx="315.3" cy="341.5" r="0.88" fill="#2a2ab8" opacity="0.20"/><circle cx="327.1" cy="333.0" r="0.84" fill="#2a2ab8" opacity="0.25"/><circle cx="343.1" cy="323.1" r="0.82" fill="#2a2ab8" opacity="0.43"/><circle cx="314.3" cy="334.4" r="0.91" fill="#2a2ab8" opacity="0.15"/><circle cx="333.4" cy="343.0" r="0.67" fill="#2a2ab8" opacity="0.22"/><circle cx="353.7" cy="353.9" r="0.70" fill="#2a2ab8" opacity="0.31"/><circle cx="367.7" cy="330.5" r="0.89" fill="#2a2ab8" opacity="0.15"/><circle cx="315.6" cy="328.8" r="0.83" fill="#2a2ab8" opacity="0.33"/><circle cx="347.6" cy="351.9" r="0.84" fill="#2a2ab8" opacity="0.17"/><circle cx="316.0" cy="329.4" r="0.99" fill="#2a2ab8" opacity="0.13"/><circle cx="357.3" cy="341.7" r="0.94" fill="#2a2ab8" opacity="0.25"/><circle cx="363.9" cy="359.1" r="0.91" fill="#2a2ab8" opacity="0.12"/><circle cx="345.1" cy="324.2" r="0.84" fill="#2a2ab8" opacity="0.24"/><circle cx="307.7" cy="346.1" r="0.72" fill="#2a2ab8" opacity="0.27"/><circle cx="340.9" cy="328.5" r="0.79" fill="#2a2ab8" opacity="0.25"/><circle cx="361.7" cy="369.0" r="0.71" fill="#2a2ab8" opacity="0.23"/><circle cx="329.7" cy="338.5" r="0.98" fill="#2a2ab8" opacity="0.40"/><circle cx="309.9" cy="363.7" r="0.94" fill="#2a2ab8" opacity="0.40"/><circle cx="326.8" cy="323.6" r="0.88" fill="#2a2ab8" opacity="0.16"/><circle cx="348.1" cy="328.5" r="0.83" fill="#2a2ab8" opacity="0.13"/><circle cx="339.0" cy="334.3" r="0.62" fill="#2a2ab8" opacity="0.40"/><circle cx="350.5" cy="354.6" r="0.74" fill="#2a2ab8" opacity="0.24"/><circle cx="337.4" cy="333.8" r="0.87" fill="#2a2ab8" opacity="0.14"/><circle cx="308.7" cy="337.7" r="0.80" fill="#2a2ab8" opacity="0.31"/><circle cx="347.5" cy="351.1" r="0.77" fill="#2a2ab8" opacity="0.40"/><circle cx="334.7" cy="346.7" r="0.69" fill="#2a2ab8" opacity="0.36"/><circle cx="300.9" cy="362.3" r="0.87" fill="#2a2ab8" opacity="0.45"/><circle cx="357.3" cy="348.0" r="0.88" fill="#2a2ab8" opacity="0.24"/><circle cx="318.4" cy="368.5" r="0.76" fill="#2a2ab8" opacity="0.35"/><circle cx="297.9" cy="327.5" r="0.94" fill="#2a2ab8" opacity="0.32"/><circle cx="350.0" cy="352.7" r="0.66" fill="#2a2ab8" opacity="0.27"/><circle cx="333.8" cy="350.9" r="0.99" fill="#2a2ab8" opacity="0.26"/><circle cx="346.9" cy="355.1" r="0.64" fill="#2a2ab8" opacity="0.44"/><circle cx="326.7" cy="370.0" r="0.95" fill="#2a2ab8" opacity="0.20"/><circle cx="339.6" cy="355.0" r="0.88" fill="#2a2ab8" opacity="0.19"/><circle cx="310.8" cy="332.8" r="0.75" fill="#2a2ab8" opacity="0.44"/><circle cx="327.0" cy="354.9" r="1.00" fill="#2a2ab8" opacity="0.16"/><circle cx="325.2" cy="369.4" r="0.75" fill="#2a2ab8" opacity="0.37"/><circle cx="352.3" cy="371.0" r="0.64" fill="#2a2ab8" opacity="0.23"/><circle cx="359.3" cy="339.1" r="0.67" fill="#2a2ab8" opacity="0.37"/><circle cx="311.9" cy="355.5" r="0.92" fill="#2a2ab8" opacity="0.37"/><circle cx="347.8" cy="336.9" r="0.83" fill="#2a2ab8" opacity="0.31"/><circle cx="316.6" cy="360.9" r="0.96" fill="#2a2ab8" opacity="0.42"/><circle cx="333.6" cy="357.4" r="0.99" fill="#2a2ab8" opacity="0.29"/><circle cx="326.9" cy="338.0" r="0.63" fill="#2a2ab8" opacity="0.40"/><circle cx="367.8" cy="349.6" r="0.92" fill="#2a2ab8" opacity="0.41"/><circle cx="300.7" cy="341.3" r="0.82" fill="#2a2ab8" opacity="0.32"/><circle cx="308.4" cy="345.2" r="0.74" fill="#2a2ab8" opacity="0.12"/><circle cx="348.8" cy="360.6" r="0.98" fill="#2a2ab8" opacity="0.33"/><circle cx="353.8" cy="355.4" r="0.69" fill="#2a2ab8" opacity="0.21"/><circle cx="310.9" cy="348.1" r="0.92" fill="#2a2ab8" opacity="0.29"/><circle cx="299.5" cy="326.6" r="0.87" fill="#2a2ab8" opacity="0.31"/><circle cx="339.0" cy="336.1" r="0.68" fill="#2a2ab8" opacity="0.35"/></g>
<g filter="url(#bl5)"><ellipse cx="240" cy="247" rx="16" ry="3" fill="#1c5a20" opacity="0.10"/><ellipse cx="287" cy="311" rx="4" ry="3" fill="#1c5a20" opacity="0.10"/><rect x="223" y="323" width="71" height="49" fill="#0e2a10" opacity="0.10"/><ellipse cx="246" cy="356" rx="2" ry="0.8" fill="#2a8a30" opacity="0.4"/><ellipse cx="232" cy="353" rx="0.9" ry="0.9" fill="#2a8a30" opacity="0.4"/></g>
<text x="217.8" y="241.5" font-family="'Liberation Serif', serif" font-size="7.2" font-weight="normal" text-anchor="middle" fill="#000" stroke="#000" stroke-width="0.12" transform="rotate(-90 217.8 241.5)" textLength="19.5" lengthAdjust="spacingAndGlyphs">control</text>
<text x="217.8" y="294.0" font-family="'Liberation Serif', serif" font-size="7.2" font-weight="normal" text-anchor="middle" fill="#000" stroke="#000" stroke-width="0.12" transform="rotate(-90 217.8 294.0)" textLength="18.5" lengthAdjust="spacingAndGlyphs">sh-NC</text>
<text x="217.8" y="349.0" font-family="'Liberation Serif', serif" font-size="7.2" font-weight="normal" text-anchor="middle" fill="#000" stroke="#000" stroke-width="0.12" transform="rotate(-90 217.8 349.0)" textLength="32" lengthAdjust="spacingAndGlyphs">sh-LAMP3</text>
<text x="293.4" y="381.3" font-family="'Liberation Serif', serif" font-size="7.3" font-weight="bold" text-anchor="middle" fill="#000" stroke="#000" stroke-width="0.292" textLength="22.5" lengthAdjust="spacingAndGlyphs">CAL-27</text>
<text transform="translate(392.9 213.15) scale(0.9 1)" x="0" y="0" font-family="'Liberation Sans', sans-serif" font-size="8.9" font-weight="bold" fill="#000" stroke="#000" stroke-width="0.3">G</text>
<rect x="434.3" y="245.5" width="68.3" height="20.80000000000001" fill="#e8e8e8" stroke="#222" stroke-width="0.9"/>
<rect x="434.3" y="269.3" width="68.3" height="20.899999999999977" fill="#e8e8e8" stroke="#222" stroke-width="0.9"/>
<rect x="434.3" y="293.1" width="68.3" height="20.599999999999966" fill="#e8e8e8" stroke="#222" stroke-width="0.9"/>
<g filter="url(#bl)" transform="rotate(-3 446.1 256.7)" opacity="0.95"><ellipse cx="446.1" cy="256.7" rx="7.700000000000017" ry="1.62" fill="#111"/><rect x="440.248" y="255.32" width="11.704000000000025" height="2.7600000000000002" rx="1" fill="#111"/></g>
<g filter="url(#bl)" transform="rotate(0 467.2 256.3)" opacity="1.0"><ellipse cx="467.2" cy="256.3" rx="7.699999999999989" ry="1.7280000000000002" fill="#111"/><rect x="461.348" y="254.828" width="11.703999999999983" height="2.9440000000000004" rx="1" fill="#111"/></g>
<g filter="url(#bl)" transform="rotate(0 488.25 255.2)" opacity="1.0"><ellipse cx="488.25" cy="255.2" rx="9.149999999999977" ry="2.8080000000000003" fill="#111"/><rect x="481.296" y="252.808" width="13.907999999999966" height="4.784000000000001" rx="1" fill="#111"/></g>
<g filter="url(#bl)" transform="rotate(0 449.0 282.0)" opacity="1.0"><ellipse cx="449.0" cy="282.0" rx="9.600000000000023" ry="2.052" fill="#111"/><rect x="441.704" y="280.252" width="14.592000000000034" height="3.496" rx="1" fill="#111"/></g>
<g filter="url(#bl)" transform="rotate(0 468.45 281.9)" opacity="1.0"><ellipse cx="468.45" cy="281.9" rx="8.050000000000011" ry="2.052" fill="#111"/><rect x="462.332" y="280.152" width="12.236000000000017" height="3.496" rx="1" fill="#111"/></g>
<g filter="url(#bl)" transform="rotate(-6 488.15 281.3)" opacity="1.0"><ellipse cx="488.15" cy="281.3" rx="8.950000000000017" ry="1.512" fill="#111"/><rect x="481.348" y="280.012" width="13.604000000000026" height="2.576" rx="1" fill="#111"/></g>
<g filter="url(#bl)" transform="rotate(0 447.4 303.4)" opacity="1.0"><ellipse cx="447.4" cy="303.4" rx="9.400000000000006" ry="2.16" fill="#111"/><rect x="440.25600000000003" y="301.56" width="14.28800000000001" height="3.68" rx="1" fill="#111"/></g>
<g filter="url(#bl)" transform="rotate(0 467.1 303.3)" opacity="1.0"><ellipse cx="467.1" cy="303.3" rx="8.5" ry="2.16" fill="#111"/><rect x="460.64000000000004" y="301.46000000000004" width="12.92" height="3.68" rx="1" fill="#111"/></g>
<g filter="url(#bl)" transform="rotate(0 486.55 303.4)" opacity="1.0"><ellipse cx="486.55" cy="303.4" rx="8.75" ry="2.16" fill="#111"/><rect x="479.90000000000003" y="301.56" width="13.3" height="3.68" rx="1" fill="#111"/></g>
<text x="430.6" y="259.6" font-family="'Liberation Serif', serif" font-size="7.2" font-weight="normal" text-anchor="end" fill="#000" stroke="#000" stroke-width="0.288" textLength="25" lengthAdjust="spacingAndGlyphs">γ-H2AX</text>
<text x="430.0" y="282.6" font-family="'Liberation Serif', serif" font-size="7.2" font-weight="normal" text-anchor="end" fill="#000" stroke="#000" stroke-width="0.288" textLength="16" lengthAdjust="spacingAndGlyphs">Ku70</text>
<text x="429.6" y="304.0" font-family="'Liberation Serif', serif" font-size="7.2" font-weight="normal" text-anchor="end" fill="#000" stroke="#000" stroke-width="0.288" textLength="18.5" lengthAdjust="spacingAndGlyphs">β-actin</text>
<text x="465.6" y="322.6" font-family="'Liberation Serif', serif" font-size="7.3" font-weight="bold" text-anchor="middle" fill="#000" stroke="#000" stroke-width="0.292" textLength="22" lengthAdjust="spacingAndGlyphs">CAL-27</text>
<text x="446.0" y="244.6" font-family="'Liberation Serif', serif" font-size="7.2" font-weight="normal" text-anchor="start" fill="#000" stroke="#000" stroke-width="0.288" transform="rotate(-33 446.0 244.6)" textLength="21.5" lengthAdjust="spacingAndGlyphs">control</text>
<text x="467.2" y="244.6" font-family="'Liberation Serif', serif" font-size="7.2" font-weight="normal" text-anchor="start" fill="#000" stroke="#000" stroke-width="0.288" transform="rotate(-33 467.2 244.6)" textLength="17.5" lengthAdjust="spacingAndGlyphs">sh-NC</text>
<text x="488.0" y="244.6" font-family="'Liberation Serif', serif" font-size="7.2" font-weight="normal" text-anchor="start" fill="#000" stroke="#000" stroke-width="0.288" transform="rotate(-33 488.0 244.6)" textLength="31" lengthAdjust="spacingAndGlyphs">sh-LAMP3</text>
<rect x="552.2" y="285.59019" width="10.2" height="22.60980999999998" fill="#565a5c" stroke="#555" stroke-width="0.25"/>
<line x1="557.3000000000001" y1="284.91454999999996" x2="557.3000000000001" y2="285.59019" stroke="#777" stroke-width="0.5"/>
<line x1="555.5000000000001" y1="284.91454999999996" x2="559.1" y2="284.91454999999996" stroke="#777" stroke-width="0.55"/>
<line x1="557.3000000000001" y1="308.2" x2="557.3000000000001" y2="311.2" stroke="#444" stroke-width="0.65"/>
<rect x="567.8" y="284.7939" width="10.3" height="23.40609999999998" fill="#6b9ccf" stroke="#555" stroke-width="0.25"/>
<line x1="572.9499999999999" y1="284.07" x2="572.9499999999999" y2="284.7939" stroke="#777" stroke-width="0.5"/>
<line x1="571.15" y1="284.07" x2="574.7499999999999" y2="284.07" stroke="#777" stroke-width="0.55"/>
<line x1="572.9499999999999" y1="308.2" x2="572.9499999999999" y2="311.2" stroke="#444" stroke-width="0.65"/>
<rect x="583.6" y="252.701" width="10.2" height="55.498999999999995" fill="#efb762" stroke="#555" stroke-width="0.25"/>
<line x1="588.7" y1="242.3251" x2="588.7" y2="252.701" stroke="#777" stroke-width="0.5"/>
<line x1="586.9000000000001" y1="242.3251" x2="590.5" y2="242.3251" stroke="#777" stroke-width="0.55"/>
<line x1="588.7" y1="308.2" x2="588.7" y2="311.2" stroke="#444" stroke-width="0.65"/>
<line x1="546.9" y1="235.41" x2="546.9" y2="308.2" stroke="#8c8c8c" stroke-width="1.0"/>
<line x1="543.9" y1="308.2" x2="599.0" y2="308.2" stroke="#111" stroke-width="1.0"/>
<text x="542.9" y="310.144" font-family="'Liberation Serif', serif" font-size="5.4" font-weight="bold" text-anchor="end" fill="#000" stroke="#000" stroke-width="0.27">0</text>
<line x1="543.9" y1="284.07" x2="546.9" y2="284.07" stroke="#111" stroke-width="0.9"/>
<text x="542.9" y="286.014" font-family="'Liberation Serif', serif" font-size="5.4" font-weight="bold" text-anchor="end" fill="#000" stroke="#000" stroke-width="0.27">1</text>
<line x1="543.9" y1="259.94" x2="546.9" y2="259.94" stroke="#111" stroke-width="0.9"/>
<text x="542.9" y="261.884" font-family="'Liberation Serif', serif" font-size="5.4" font-weight="bold" text-anchor="end" fill="#000" stroke="#000" stroke-width="0.27">2</text>
<line x1="543.9" y1="235.81" x2="546.9" y2="235.81" stroke="#111" stroke-width="0.9"/>
<text x="542.9" y="237.754" font-family="'Liberation Serif', serif" font-size="5.4" font-weight="bold" text-anchor="end" fill="#000" stroke="#000" stroke-width="0.27">3</text>
<text x="537.8" y="271.5" font-family="'Liberation Serif', serif" font-size="5.3" font-weight="bold" text-anchor="middle" fill="#000" stroke="#000" stroke-width="0.159" transform="rotate(-90 537.8 271.5)" textLength="76" lengthAdjust="spacingAndGlyphs">Relative protein expression of γ-H2AX</text>
<text x="563.0" y="248.2" font-family="'Liberation Serif', serif" font-size="5.5" font-weight="bold" text-anchor="middle" fill="#000" stroke="#000" stroke-width="0.165" textLength="15.5" lengthAdjust="spacingAndGlyphs">CAL-27</text>
<text x="572.9" y="280.6" font-family="'Liberation Serif', serif" font-size="5.0" font-weight="normal" text-anchor="middle" fill="#000" stroke="#000" stroke-width="0.15">ns</text>
<text x="588.7" y="238.6" font-family="'Liberation Serif', serif" font-size="5.0" font-weight="bold" text-anchor="middle" fill="#000" stroke="#000" stroke-width="0.15">****</text>
<text x="558.5999999999999" y="314.8" font-family="'Liberation Serif', serif" font-size="4.8" font-weight="bold" text-anchor="end" fill="#000" stroke="#000" stroke-width="0.144" transform="rotate(-45 558.5999999999999 314.8)">Control</text>
<text x="574.3" y="314.8" font-family="'Liberation Serif', serif" font-size="4.8" font-weight="bold" text-anchor="end" fill="#000" stroke="#000" stroke-width="0.144" transform="rotate(-45 574.3 314.8)">sh-NC</text>
<text x="589.9" y="314.8" font-family="'Liberation Serif', serif" font-size="4.8" font-weight="bold" text-anchor="end" fill="#000" stroke="#000" stroke-width="0.144" transform="rotate(-45 589.9 314.8)">sh-LAMP3</text>
<rect x="635.5" y="262.0965" width="10.2" height="46.1035" fill="#565a5c" stroke="#555" stroke-width="0.25"/>
<line x1="640.6" y1="260.39795" x2="640.6" y2="262.0965" stroke="#777" stroke-width="0.5"/>
<line x1="638.8000000000001" y1="260.39795" x2="642.4" y2="260.39795" stroke="#777" stroke-width="0.55"/>
<line x1="640.6" y1="308.2" x2="640.6" y2="311.2" stroke="#444" stroke-width="0.65"/>
<rect x="651.0" y="260.98031" width="10.6" height="47.219690000000014" fill="#6b9ccf" stroke="#555" stroke-width="0.25"/>
<line x1="656.3" y1="259.66999999999996" x2="656.3" y2="260.98031" stroke="#777" stroke-width="0.5"/>
<line x1="654.5" y1="259.66999999999996" x2="658.0999999999999" y2="259.66999999999996" stroke="#777" stroke-width="0.55"/>
<line x1="656.3" y1="308.2" x2="656.3" y2="311.2" stroke="#444" stroke-width="0.65"/>
<rect x="666.6" y="281.99379999999996" width="10.3" height="26.206200000000024" fill="#efb762" stroke="#555" stroke-width="0.25"/>
<line x1="671.75" y1="279.082" x2="671.75" y2="281.99379999999996" stroke="#777" stroke-width="0.5"/>
<line x1="669.95" y1="279.082" x2="673.55" y2="279.082" stroke="#777" stroke-width="0.55"/>
<line x1="671.75" y1="308.2" x2="671.75" y2="311.2" stroke="#444" stroke-width="0.65"/>
<line x1="630.4" y1="235.00499999999997" x2="630.4" y2="308.2" stroke="#111" stroke-width="1.0"/>
<line x1="627.4" y1="308.2" x2="683.3" y2="308.2" stroke="#111" stroke-width="1.0"/>
<text x="626.4" y="310.144" font-family="'Liberation Serif', serif" font-size="5.4" font-weight="bold" text-anchor="end" fill="#000" stroke="#000" stroke-width="0.27">0.0</text>
<line x1="627.4" y1="283.935" x2="630.4" y2="283.935" stroke="#111" stroke-width="0.9"/>
<text x="626.4" y="285.879" font-family="'Liberation Serif', serif" font-size="5.4" font-weight="bold" text-anchor="end" fill="#000" stroke="#000" stroke-width="0.27">0.5</text>
<line x1="627.4" y1="259.66999999999996" x2="630.4" y2="259.66999999999996" stroke="#111" stroke-width="0.9"/>
<text x="626.4" y="261.614" font-family="'Liberation Serif', serif" font-size="5.4" font-weight="bold" text-anchor="end" fill="#000" stroke="#000" stroke-width="0.27">1.0</text>
<line x1="627.4" y1="235.40499999999997" x2="630.4" y2="235.40499999999997" stroke="#111" stroke-width="0.9"/>
<text x="626.4" y="237.34899999999996" font-family="'Liberation Serif', serif" font-size="5.4" font-weight="bold" text-anchor="end" fill="#000" stroke="#000" stroke-width="0.27">1.5</text>
<text x="617.0" y="271.0" font-family="'Liberation Serif', serif" font-size="5.3" font-weight="bold" text-anchor="middle" fill="#000" stroke="#000" stroke-width="0.159" transform="rotate(-90 617.0 271.0)" textLength="70" lengthAdjust="spacingAndGlyphs">Relative protein expression of Ku70</text>
<text x="648.2" y="242.0" font-family="'Liberation Serif', serif" font-size="5.3" font-weight="bold" text-anchor="middle" fill="#000" stroke="#000" stroke-width="0.159" textLength="13.0" lengthAdjust="spacingAndGlyphs">CAL-27</text>
<text x="656.3" y="255.0" font-family="'Liberation Serif', serif" font-size="5.0" font-weight="normal" text-anchor="middle" fill="#000" stroke="#000" stroke-width="0.15">ns</text>
<text x="671.7" y="276.0" font-family="'Liberation Serif', serif" font-size="5.0" font-weight="bold" text-anchor="middle" fill="#000" stroke="#000" stroke-width="0.15">****</text>
<text x="641.8" y="314.8" font-family="'Liberation Serif', serif" font-size="4.8" font-weight="bold" text-anchor="end" fill="#000" stroke="#000" stroke-width="0.144" transform="rotate(-45 641.8 314.8)">Control</text>
<text x="657.5999999999999" y="314.8" font-family="'Liberation Serif', serif" font-size="4.8" font-weight="bold" text-anchor="end" fill="#000" stroke="#000" stroke-width="0.144" transform="rotate(-45 657.5999999999999 314.8)">sh-NC</text>
<text x="673.0" y="314.8" font-family="'Liberation Serif', serif" font-size="4.8" font-weight="bold" text-anchor="end" fill="#000" stroke="#000" stroke-width="0.144" transform="rotate(-45 673.0 314.8)">sh-LAMP3</text>
</g>
</svg>
</body></html>
